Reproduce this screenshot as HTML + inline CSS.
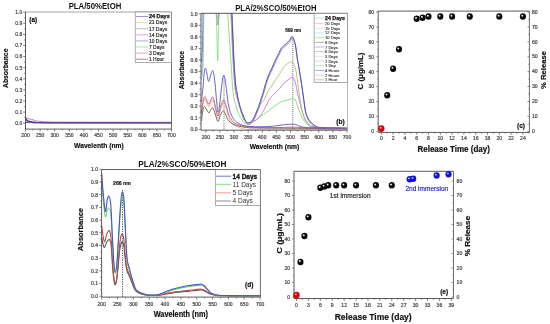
<!DOCTYPE html>
<html><head><meta charset="utf-8"><title>Figure</title>
<style>html,body{margin:0;padding:0;background:#fff;}body{width:550px;height:324px;position:relative;overflow:hidden;font-family:"Liberation Sans", sans-serif;}</style>
</head><body>
<svg width="550" height="324" viewBox="0 0 550 324" style="position:absolute;left:0;top:0;filter:blur(0.4px)" font-family='"Liberation Sans", sans-serif'>
<defs>
<radialGradient id="hk"><stop offset="0" stop-color="#fff" stop-opacity="1"/><stop offset="0.4" stop-color="#e8e8e8" stop-opacity="0.9"/><stop offset="1" stop-color="#777" stop-opacity="0"/></radialGradient>
<radialGradient id="hr"><stop offset="0" stop-color="#fff" stop-opacity="1"/><stop offset="0.45" stop-color="#ffb0b0" stop-opacity="0.8"/><stop offset="1" stop-color="#ff6060" stop-opacity="0"/></radialGradient>
<radialGradient id="hb"><stop offset="0" stop-color="#fff" stop-opacity="1"/><stop offset="0.45" stop-color="#b0b0ff" stop-opacity="0.8"/><stop offset="1" stop-color="#6060ff" stop-opacity="0"/></radialGradient>
<clipPath id="cb"><rect x="201" y="13.3" width="146.5" height="117"/></clipPath>
<clipPath id="cd"><rect x="101.6" y="169.5" width="158.8" height="127.5"/></clipPath>
<clipPath id="ca"><rect x="25.5" y="12" width="146" height="117"/></clipPath>
</defs>
<rect width="550" height="324" fill="#fff"/>
<line x1="23.20" y1="123.20" x2="25.50" y2="123.20" stroke="#4a4a4a" stroke-width="0.7" />
<text x="22.30" y="125.00" font-size="5.0" text-anchor="end" fill="#444" stroke="#444" stroke-width="0.2" >0.0</text>
<line x1="24.10" y1="117.65" x2="25.50" y2="117.65" stroke="#4a4a4a" stroke-width="0.6" />
<line x1="23.20" y1="112.10" x2="25.50" y2="112.10" stroke="#4a4a4a" stroke-width="0.7" />
<text x="22.30" y="113.90" font-size="5.0" text-anchor="end" fill="#444" stroke="#444" stroke-width="0.2" >0.1</text>
<line x1="24.10" y1="106.55" x2="25.50" y2="106.55" stroke="#4a4a4a" stroke-width="0.6" />
<line x1="23.20" y1="101.00" x2="25.50" y2="101.00" stroke="#4a4a4a" stroke-width="0.7" />
<text x="22.30" y="102.80" font-size="5.0" text-anchor="end" fill="#444" stroke="#444" stroke-width="0.2" >0.2</text>
<line x1="24.10" y1="95.45" x2="25.50" y2="95.45" stroke="#4a4a4a" stroke-width="0.6" />
<line x1="23.20" y1="89.90" x2="25.50" y2="89.90" stroke="#4a4a4a" stroke-width="0.7" />
<text x="22.30" y="91.70" font-size="5.0" text-anchor="end" fill="#444" stroke="#444" stroke-width="0.2" >0.3</text>
<line x1="24.10" y1="84.35" x2="25.50" y2="84.35" stroke="#4a4a4a" stroke-width="0.6" />
<line x1="23.20" y1="78.80" x2="25.50" y2="78.80" stroke="#4a4a4a" stroke-width="0.7" />
<text x="22.30" y="80.60" font-size="5.0" text-anchor="end" fill="#444" stroke="#444" stroke-width="0.2" >0.4</text>
<line x1="24.10" y1="73.25" x2="25.50" y2="73.25" stroke="#4a4a4a" stroke-width="0.6" />
<line x1="23.20" y1="67.70" x2="25.50" y2="67.70" stroke="#4a4a4a" stroke-width="0.7" />
<text x="22.30" y="69.50" font-size="5.0" text-anchor="end" fill="#444" stroke="#444" stroke-width="0.2" >0.5</text>
<line x1="24.10" y1="62.15" x2="25.50" y2="62.15" stroke="#4a4a4a" stroke-width="0.6" />
<line x1="23.20" y1="56.60" x2="25.50" y2="56.60" stroke="#4a4a4a" stroke-width="0.7" />
<text x="22.30" y="58.40" font-size="5.0" text-anchor="end" fill="#444" stroke="#444" stroke-width="0.2" >0.6</text>
<line x1="24.10" y1="51.05" x2="25.50" y2="51.05" stroke="#4a4a4a" stroke-width="0.6" />
<line x1="23.20" y1="45.50" x2="25.50" y2="45.50" stroke="#4a4a4a" stroke-width="0.7" />
<text x="22.30" y="47.30" font-size="5.0" text-anchor="end" fill="#444" stroke="#444" stroke-width="0.2" >0.7</text>
<line x1="24.10" y1="39.95" x2="25.50" y2="39.95" stroke="#4a4a4a" stroke-width="0.6" />
<line x1="23.20" y1="34.40" x2="25.50" y2="34.40" stroke="#4a4a4a" stroke-width="0.7" />
<text x="22.30" y="36.20" font-size="5.0" text-anchor="end" fill="#444" stroke="#444" stroke-width="0.2" >0.8</text>
<line x1="24.10" y1="28.85" x2="25.50" y2="28.85" stroke="#4a4a4a" stroke-width="0.6" />
<line x1="23.20" y1="23.30" x2="25.50" y2="23.30" stroke="#4a4a4a" stroke-width="0.7" />
<text x="22.30" y="25.10" font-size="5.0" text-anchor="end" fill="#444" stroke="#444" stroke-width="0.2" >0.9</text>
<line x1="24.10" y1="17.75" x2="25.50" y2="17.75" stroke="#4a4a4a" stroke-width="0.6" />
<line x1="23.20" y1="12.20" x2="25.50" y2="12.20" stroke="#4a4a4a" stroke-width="0.7" />
<text x="22.30" y="14.00" font-size="5.0" text-anchor="end" fill="#444" stroke="#444" stroke-width="0.2" >1.0</text>
<line x1="25.50" y1="129.10" x2="25.50" y2="131.50" stroke="#4a4a4a" stroke-width="0.7" />
<text x="25.50" y="137.00" font-size="5.0" text-anchor="middle" fill="#444" stroke="#444" stroke-width="0.2" >200</text>
<line x1="32.80" y1="129.10" x2="32.80" y2="130.50" stroke="#4a4a4a" stroke-width="0.6" />
<line x1="40.10" y1="129.10" x2="40.10" y2="131.50" stroke="#4a4a4a" stroke-width="0.7" />
<text x="40.10" y="137.00" font-size="5.0" text-anchor="middle" fill="#444" stroke="#444" stroke-width="0.2" >250</text>
<line x1="47.40" y1="129.10" x2="47.40" y2="130.50" stroke="#4a4a4a" stroke-width="0.6" />
<line x1="54.70" y1="129.10" x2="54.70" y2="131.50" stroke="#4a4a4a" stroke-width="0.7" />
<text x="54.70" y="137.00" font-size="5.0" text-anchor="middle" fill="#444" stroke="#444" stroke-width="0.2" >300</text>
<line x1="62.00" y1="129.10" x2="62.00" y2="130.50" stroke="#4a4a4a" stroke-width="0.6" />
<line x1="69.30" y1="129.10" x2="69.30" y2="131.50" stroke="#4a4a4a" stroke-width="0.7" />
<text x="69.30" y="137.00" font-size="5.0" text-anchor="middle" fill="#444" stroke="#444" stroke-width="0.2" >350</text>
<line x1="76.60" y1="129.10" x2="76.60" y2="130.50" stroke="#4a4a4a" stroke-width="0.6" />
<line x1="83.90" y1="129.10" x2="83.90" y2="131.50" stroke="#4a4a4a" stroke-width="0.7" />
<text x="83.90" y="137.00" font-size="5.0" text-anchor="middle" fill="#444" stroke="#444" stroke-width="0.2" >400</text>
<line x1="91.20" y1="129.10" x2="91.20" y2="130.50" stroke="#4a4a4a" stroke-width="0.6" />
<line x1="98.50" y1="129.10" x2="98.50" y2="131.50" stroke="#4a4a4a" stroke-width="0.7" />
<text x="98.50" y="137.00" font-size="5.0" text-anchor="middle" fill="#444" stroke="#444" stroke-width="0.2" >450</text>
<line x1="105.80" y1="129.10" x2="105.80" y2="130.50" stroke="#4a4a4a" stroke-width="0.6" />
<line x1="113.10" y1="129.10" x2="113.10" y2="131.50" stroke="#4a4a4a" stroke-width="0.7" />
<text x="113.10" y="137.00" font-size="5.0" text-anchor="middle" fill="#444" stroke="#444" stroke-width="0.2" >500</text>
<line x1="120.40" y1="129.10" x2="120.40" y2="130.50" stroke="#4a4a4a" stroke-width="0.6" />
<line x1="127.70" y1="129.10" x2="127.70" y2="131.50" stroke="#4a4a4a" stroke-width="0.7" />
<text x="127.70" y="137.00" font-size="5.0" text-anchor="middle" fill="#444" stroke="#444" stroke-width="0.2" >550</text>
<line x1="135.00" y1="129.10" x2="135.00" y2="130.50" stroke="#4a4a4a" stroke-width="0.6" />
<line x1="142.30" y1="129.10" x2="142.30" y2="131.50" stroke="#4a4a4a" stroke-width="0.7" />
<text x="142.30" y="137.00" font-size="5.0" text-anchor="middle" fill="#444" stroke="#444" stroke-width="0.2" >600</text>
<line x1="149.60" y1="129.10" x2="149.60" y2="130.50" stroke="#4a4a4a" stroke-width="0.6" />
<line x1="156.90" y1="129.10" x2="156.90" y2="131.50" stroke="#4a4a4a" stroke-width="0.7" />
<text x="156.90" y="137.00" font-size="5.0" text-anchor="middle" fill="#444" stroke="#444" stroke-width="0.2" >650</text>
<line x1="164.20" y1="129.10" x2="164.20" y2="130.50" stroke="#4a4a4a" stroke-width="0.6" />
<line x1="171.50" y1="129.10" x2="171.50" y2="131.50" stroke="#4a4a4a" stroke-width="0.7" />
<text x="171.50" y="137.00" font-size="5.0" text-anchor="middle" fill="#444" stroke="#444" stroke-width="0.2" >700</text>
<line x1="25.50" y1="12.00" x2="171.50" y2="12.00" stroke="#999" stroke-width="0.9" />
<line x1="171.50" y1="12.00" x2="171.50" y2="129.10" stroke="#4a4a4a" stroke-width="0.8" />
<line x1="25.50" y1="12.00" x2="25.50" y2="129.10" stroke="#4a4a4a" stroke-width="0.9" />
<line x1="25.50" y1="129.10" x2="171.50" y2="129.10" stroke="#4a4a4a" stroke-width="0.9" />
<text x="95.00" y="8.80" font-size="8.8" text-anchor="middle" fill="#111" font-weight="bold" textLength="52.7" lengthAdjust="spacingAndGlyphs" >PLA/50%EtOH</text>
<text x="98.90" y="147.50" font-size="8.0" text-anchor="middle" fill="#111" stroke="#111" stroke-width="0.2" font-weight="bold" textLength="49.6" lengthAdjust="spacingAndGlyphs" >Wavelenth (nm)</text>
<text x="8.20" y="68.30" font-size="7.4" text-anchor="middle" fill="#111" stroke="#111" stroke-width="0.2" font-weight="bold" textLength="39.5" lengthAdjust="spacingAndGlyphs" transform="rotate(-90 8.20 68.30)" >Absorbance</text>
<text x="33.20" y="22.10" font-size="6.4" text-anchor="middle" fill="#111" stroke="#111" stroke-width="0.2" font-weight="bold" >(a)</text>
<path d="M25.60,117.10 C26.00,117.35 27.05,118.23 28.00,118.60 C28.95,118.97 30.22,119.02 31.30,119.30 C32.38,119.58 33.53,120.00 34.50,120.30 C35.47,120.60 35.82,120.88 37.10,121.10 C38.38,121.32 40.05,121.45 42.20,121.60 C44.35,121.75 45.37,121.90 50.00,122.00 C54.63,122.10 49.83,122.15 70.00,122.20 C90.17,122.25 154.17,122.28 171.00,122.30" fill="none" stroke="#a080c8" stroke-width="1.0" stroke-linejoin="round" clip-path="url(#ca)" />
<path d="M25.60,118.50 C25.93,118.87 26.65,120.15 27.60,120.70 C28.55,121.25 29.90,121.52 31.30,121.80 C32.70,122.08 33.72,122.23 36.00,122.40 C38.28,122.57 22.50,122.70 45.00,122.80 C67.50,122.90 150.00,122.97 171.00,123.00" fill="none" stroke="#4a2a78" stroke-width="1.2" stroke-linejoin="round" clip-path="url(#ca)" />
<path d="M25.60,119.50 C26.10,119.85 27.37,121.08 28.60,121.60 C29.83,122.12 9.27,122.38 33.00,122.60 C56.73,122.82 148.00,122.85 171.00,122.90" fill="none" stroke="#6a3a98" stroke-width="0.9" stroke-linejoin="round" clip-path="url(#ca)" />
<rect x="135.2" y="12.0" width="36.30000000000001" height="50.3" fill="#fff" stroke="#777" stroke-width="0.6"/>
<line x1="136.00" y1="16.50" x2="148.00" y2="16.50" stroke="#8c5cc4" stroke-width="0.7" />
<text x="148.90" y="18.30" font-size="5.5" text-anchor="start" fill="#111" stroke="#111" stroke-width="0.25" font-weight="bold" >24 Days</text>
<line x1="136.00" y1="22.60" x2="148.00" y2="22.60" stroke="#cfcf9a" stroke-width="0.7" />
<text x="148.90" y="24.40" font-size="5.0" text-anchor="start" fill="#2a2a2a" stroke="#2a2a2a" stroke-width="0.18" >21 Days</text>
<line x1="136.00" y1="28.70" x2="148.00" y2="28.70" stroke="#b89a9a" stroke-width="0.7" />
<text x="148.90" y="30.50" font-size="5.0" text-anchor="start" fill="#2a2a2a" stroke="#2a2a2a" stroke-width="0.18" >17 Days</text>
<line x1="136.00" y1="34.80" x2="148.00" y2="34.80" stroke="#e07ae0" stroke-width="0.7" />
<text x="148.90" y="36.60" font-size="5.0" text-anchor="start" fill="#2a2a2a" stroke="#2a2a2a" stroke-width="0.18" >14 Days</text>
<line x1="136.00" y1="40.90" x2="148.00" y2="40.90" stroke="#8a8ad0" stroke-width="0.7" />
<text x="148.90" y="42.70" font-size="5.0" text-anchor="start" fill="#2a2a2a" stroke="#2a2a2a" stroke-width="0.18" >10 Days</text>
<line x1="136.00" y1="47.00" x2="148.00" y2="47.00" stroke="#80dd80" stroke-width="0.7" />
<text x="148.90" y="48.80" font-size="5.0" text-anchor="start" fill="#2a2a2a" stroke="#2a2a2a" stroke-width="0.18" >7 Days</text>
<line x1="136.00" y1="53.10" x2="148.00" y2="53.10" stroke="#e07c90" stroke-width="0.7" />
<text x="148.90" y="54.90" font-size="5.0" text-anchor="start" fill="#2a2a2a" stroke="#2a2a2a" stroke-width="0.18" >3 Days</text>
<line x1="136.00" y1="59.20" x2="148.00" y2="59.20" stroke="#706060" stroke-width="0.7" />
<text x="148.90" y="61.00" font-size="5.0" text-anchor="start" fill="#2a2a2a" stroke="#2a2a2a" stroke-width="0.18" >1 Hour</text>
<line x1="198.70" y1="129.40" x2="201.00" y2="129.40" stroke="#4a4a4a" stroke-width="0.7" />
<text x="197.50" y="131.20" font-size="5.0" text-anchor="end" fill="#444" stroke="#444" stroke-width="0.2" >0.0</text>
<line x1="199.60" y1="123.62" x2="201.00" y2="123.62" stroke="#4a4a4a" stroke-width="0.6" />
<line x1="198.70" y1="117.84" x2="201.00" y2="117.84" stroke="#4a4a4a" stroke-width="0.7" />
<text x="197.50" y="119.64" font-size="5.0" text-anchor="end" fill="#444" stroke="#444" stroke-width="0.2" >0.1</text>
<line x1="199.60" y1="112.06" x2="201.00" y2="112.06" stroke="#4a4a4a" stroke-width="0.6" />
<line x1="198.70" y1="106.28" x2="201.00" y2="106.28" stroke="#4a4a4a" stroke-width="0.7" />
<text x="197.50" y="108.08" font-size="5.0" text-anchor="end" fill="#444" stroke="#444" stroke-width="0.2" >0.2</text>
<line x1="199.60" y1="100.50" x2="201.00" y2="100.50" stroke="#4a4a4a" stroke-width="0.6" />
<line x1="198.70" y1="94.72" x2="201.00" y2="94.72" stroke="#4a4a4a" stroke-width="0.7" />
<text x="197.50" y="96.52" font-size="5.0" text-anchor="end" fill="#444" stroke="#444" stroke-width="0.2" >0.3</text>
<line x1="199.60" y1="88.94" x2="201.00" y2="88.94" stroke="#4a4a4a" stroke-width="0.6" />
<line x1="198.70" y1="83.16" x2="201.00" y2="83.16" stroke="#4a4a4a" stroke-width="0.7" />
<text x="197.50" y="84.96" font-size="5.0" text-anchor="end" fill="#444" stroke="#444" stroke-width="0.2" >0.4</text>
<line x1="199.60" y1="77.38" x2="201.00" y2="77.38" stroke="#4a4a4a" stroke-width="0.6" />
<line x1="198.70" y1="71.60" x2="201.00" y2="71.60" stroke="#4a4a4a" stroke-width="0.7" />
<text x="197.50" y="73.40" font-size="5.0" text-anchor="end" fill="#444" stroke="#444" stroke-width="0.2" >0.5</text>
<line x1="199.60" y1="65.82" x2="201.00" y2="65.82" stroke="#4a4a4a" stroke-width="0.6" />
<line x1="198.70" y1="60.04" x2="201.00" y2="60.04" stroke="#4a4a4a" stroke-width="0.7" />
<text x="197.50" y="61.84" font-size="5.0" text-anchor="end" fill="#444" stroke="#444" stroke-width="0.2" >0.6</text>
<line x1="199.60" y1="54.26" x2="201.00" y2="54.26" stroke="#4a4a4a" stroke-width="0.6" />
<line x1="198.70" y1="48.48" x2="201.00" y2="48.48" stroke="#4a4a4a" stroke-width="0.7" />
<text x="197.50" y="50.28" font-size="5.0" text-anchor="end" fill="#444" stroke="#444" stroke-width="0.2" >0.7</text>
<line x1="199.60" y1="42.70" x2="201.00" y2="42.70" stroke="#4a4a4a" stroke-width="0.6" />
<line x1="198.70" y1="36.92" x2="201.00" y2="36.92" stroke="#4a4a4a" stroke-width="0.7" />
<text x="197.50" y="38.72" font-size="5.0" text-anchor="end" fill="#444" stroke="#444" stroke-width="0.2" >0.8</text>
<line x1="199.60" y1="31.14" x2="201.00" y2="31.14" stroke="#4a4a4a" stroke-width="0.6" />
<line x1="198.70" y1="25.36" x2="201.00" y2="25.36" stroke="#4a4a4a" stroke-width="0.7" />
<text x="197.50" y="27.16" font-size="5.0" text-anchor="end" fill="#444" stroke="#444" stroke-width="0.2" >0.9</text>
<line x1="199.60" y1="19.58" x2="201.00" y2="19.58" stroke="#4a4a4a" stroke-width="0.6" />
<line x1="198.70" y1="13.80" x2="201.00" y2="13.80" stroke="#4a4a4a" stroke-width="0.7" />
<text x="197.50" y="15.60" font-size="5.0" text-anchor="end" fill="#444" stroke="#444" stroke-width="0.2" >1.0</text>
<line x1="205.80" y1="130.20" x2="205.80" y2="132.60" stroke="#4a4a4a" stroke-width="0.7" />
<text x="205.80" y="138.60" font-size="5.0" text-anchor="middle" fill="#444" stroke="#444" stroke-width="0.2" >200</text>
<line x1="212.86" y1="130.20" x2="212.86" y2="131.60" stroke="#4a4a4a" stroke-width="0.6" />
<line x1="219.92" y1="130.20" x2="219.92" y2="132.60" stroke="#4a4a4a" stroke-width="0.7" />
<text x="219.92" y="138.60" font-size="5.0" text-anchor="middle" fill="#444" stroke="#444" stroke-width="0.2" >250</text>
<line x1="226.98" y1="130.20" x2="226.98" y2="131.60" stroke="#4a4a4a" stroke-width="0.6" />
<line x1="234.04" y1="130.20" x2="234.04" y2="132.60" stroke="#4a4a4a" stroke-width="0.7" />
<text x="234.04" y="138.60" font-size="5.0" text-anchor="middle" fill="#444" stroke="#444" stroke-width="0.2" >300</text>
<line x1="241.10" y1="130.20" x2="241.10" y2="131.60" stroke="#4a4a4a" stroke-width="0.6" />
<line x1="248.16" y1="130.20" x2="248.16" y2="132.60" stroke="#4a4a4a" stroke-width="0.7" />
<text x="248.16" y="138.60" font-size="5.0" text-anchor="middle" fill="#444" stroke="#444" stroke-width="0.2" >350</text>
<line x1="255.22" y1="130.20" x2="255.22" y2="131.60" stroke="#4a4a4a" stroke-width="0.6" />
<line x1="262.28" y1="130.20" x2="262.28" y2="132.60" stroke="#4a4a4a" stroke-width="0.7" />
<text x="262.28" y="138.60" font-size="5.0" text-anchor="middle" fill="#444" stroke="#444" stroke-width="0.2" >400</text>
<line x1="269.34" y1="130.20" x2="269.34" y2="131.60" stroke="#4a4a4a" stroke-width="0.6" />
<line x1="276.40" y1="130.20" x2="276.40" y2="132.60" stroke="#4a4a4a" stroke-width="0.7" />
<text x="276.40" y="138.60" font-size="5.0" text-anchor="middle" fill="#444" stroke="#444" stroke-width="0.2" >450</text>
<line x1="283.46" y1="130.20" x2="283.46" y2="131.60" stroke="#4a4a4a" stroke-width="0.6" />
<line x1="290.52" y1="130.20" x2="290.52" y2="132.60" stroke="#4a4a4a" stroke-width="0.7" />
<text x="290.52" y="138.60" font-size="5.0" text-anchor="middle" fill="#444" stroke="#444" stroke-width="0.2" >500</text>
<line x1="297.58" y1="130.20" x2="297.58" y2="131.60" stroke="#4a4a4a" stroke-width="0.6" />
<line x1="304.64" y1="130.20" x2="304.64" y2="132.60" stroke="#4a4a4a" stroke-width="0.7" />
<text x="304.64" y="138.60" font-size="5.0" text-anchor="middle" fill="#444" stroke="#444" stroke-width="0.2" >550</text>
<line x1="311.70" y1="130.20" x2="311.70" y2="131.60" stroke="#4a4a4a" stroke-width="0.6" />
<line x1="318.76" y1="130.20" x2="318.76" y2="132.60" stroke="#4a4a4a" stroke-width="0.7" />
<text x="318.76" y="138.60" font-size="5.0" text-anchor="middle" fill="#444" stroke="#444" stroke-width="0.2" >600</text>
<line x1="325.82" y1="130.20" x2="325.82" y2="131.60" stroke="#4a4a4a" stroke-width="0.6" />
<line x1="332.88" y1="130.20" x2="332.88" y2="132.60" stroke="#4a4a4a" stroke-width="0.7" />
<text x="332.88" y="138.60" font-size="5.0" text-anchor="middle" fill="#444" stroke="#444" stroke-width="0.2" >650</text>
<line x1="339.94" y1="130.20" x2="339.94" y2="131.60" stroke="#4a4a4a" stroke-width="0.6" />
<line x1="347.00" y1="130.20" x2="347.00" y2="132.60" stroke="#4a4a4a" stroke-width="0.7" />
<text x="347.00" y="138.60" font-size="5.0" text-anchor="middle" fill="#444" stroke="#444" stroke-width="0.2" >700</text>
<text x="275.90" y="10.70" font-size="8.6" text-anchor="middle" fill="#111" font-weight="bold" textLength="81.3" lengthAdjust="spacingAndGlyphs" >PLA/2%SCO/50%EtOH</text>
<text x="274.40" y="149.00" font-size="7.8" text-anchor="middle" fill="#111" stroke="#111" stroke-width="0.2" font-weight="bold" textLength="49.5" lengthAdjust="spacingAndGlyphs" >Wavelenth (nm)</text>
<text x="183.60" y="70.20" font-size="7.4" text-anchor="middle" fill="#111" stroke="#111" stroke-width="0.2" font-weight="bold" textLength="38.3" lengthAdjust="spacingAndGlyphs" transform="rotate(-90 183.60 70.20)" >Absorbance</text>
<text x="340.50" y="124.30" font-size="6.6" text-anchor="middle" fill="#111" stroke="#111" stroke-width="0.2" font-weight="bold" >(b)</text>
<text x="293.20" y="32.20" font-size="5.0" text-anchor="middle" fill="#111" stroke="#111" stroke-width="0.15" font-weight="bold" textLength="16.1" lengthAdjust="spacingAndGlyphs" >509 nm</text>
<line x1="292.80" y1="37.50" x2="292.80" y2="130.00" stroke="#333" stroke-width="0.75" stroke-dasharray="1,1.1"/>
<line x1="224.00" y1="76.00" x2="224.00" y2="130.00" stroke="#333" stroke-width="0.75" stroke-dasharray="1,1.1"/>
<path d="M201.40,80.00 C201.60,78.67 202.30,75.67 202.60,72.00 C202.90,68.33 203.03,69.17 203.20,58.00 C203.37,46.83 203.53,13.83 203.60,5.00" fill="none" stroke="#80d080" stroke-width="0.7" stroke-linejoin="round" clip-path="url(#cb)" />
<path d="M201.40,74.00 C201.58,72.67 202.23,69.67 202.50,66.00 C202.77,62.33 202.87,62.17 203.00,52.00 C203.13,41.83 203.25,12.83 203.30,5.00" fill="none" stroke="#e0a0b0" stroke-width="0.7" stroke-linejoin="round" clip-path="url(#cb)" />
<path d="M201.40,62.00 C201.57,60.00 202.15,55.33 202.40,50.00 C202.65,44.67 202.77,37.50 202.90,30.00 C203.03,22.50 203.15,9.17 203.20,5.00" fill="none" stroke="#4a58b0" stroke-width="0.8" stroke-linejoin="round" clip-path="url(#cb)" />
<path d="M201.60,76.00 C201.80,73.33 202.48,66.83 202.80,60.00 C203.12,53.17 203.32,44.17 203.50,35.00 C203.68,25.83 203.83,10.00 203.90,5.00" fill="none" stroke="#86c6e6" stroke-width="0.9" stroke-linejoin="round" clip-path="url(#cb)" />
<path d="M216.00,5.00 C216.15,6.67 216.62,12.67 216.90,15.00 C217.18,17.33 217.43,19.00 217.70,19.00 C217.97,19.00 218.22,17.33 218.50,15.00 C218.78,12.67 219.25,6.67 219.40,5.00" fill="none" stroke="#d8b8d8" stroke-width="1.2" stroke-linejoin="round" clip-path="url(#cb)" />
<path d="M215.40,5.00 C215.60,7.00 216.23,13.67 216.60,17.00 C216.97,20.33 217.25,25.00 217.60,25.00 C217.95,25.00 218.32,20.33 218.70,17.00 C219.08,13.67 219.70,7.00 219.90,5.00" fill="none" stroke="#a080a8" stroke-width="1.0" stroke-linejoin="round" clip-path="url(#cb)" />
<path d="M215.90,5.00 C216.08,10.83 216.72,30.67 217.00,40.00 C217.28,49.33 217.38,61.00 217.60,61.00 C217.82,61.00 218.02,49.33 218.30,40.00 C218.58,30.67 219.13,10.83 219.30,5.00" fill="none" stroke="#7ada7a" stroke-width="0.8" stroke-linejoin="round" clip-path="url(#cb)" />
<path d="M227.20,5.00 C227.58,10.83 228.78,29.17 229.50,40.00 C230.22,50.83 230.90,61.25 231.50,70.00 C232.10,78.75 232.35,86.50 233.10,92.50 C233.85,98.50 234.95,102.17 236.00,106.00 C237.05,109.83 238.48,113.37 239.40,115.50 C240.32,117.63 240.68,117.57 241.50,118.80 C242.32,120.03 243.22,122.03 244.30,122.90 C245.38,123.77 246.72,124.07 248.00,124.00 C249.28,123.93 250.22,123.53 252.00,122.50 C253.78,121.47 256.00,119.70 258.70,117.80 C261.40,115.90 264.70,113.65 268.20,111.10 C271.70,108.55 276.73,104.27 279.70,102.50 C282.67,100.73 283.90,101.12 286.00,100.50 C288.10,99.88 290.73,98.88 292.30,98.80 C293.87,98.72 294.27,98.05 295.40,100.00 C296.53,101.95 297.97,107.52 299.10,110.50 C300.23,113.48 300.97,115.73 302.20,117.90 C303.43,120.07 304.75,121.95 306.50,123.50 C308.25,125.05 310.45,126.48 312.70,127.20 C314.95,127.92 314.20,127.63 320.00,127.80 C325.80,127.97 342.92,128.13 347.50,128.20" fill="none" stroke="#7ada7a" stroke-width="0.9" stroke-linejoin="round" clip-path="url(#cb)" />
<path d="M230.50,5.00 C230.92,14.17 232.25,46.17 233.00,60.00 C233.75,73.83 234.42,82.00 235.00,88.00 C235.58,94.00 236.00,93.83 236.50,96.00 C237.00,98.17 237.42,99.00 238.00,101.00 C238.58,103.00 239.10,105.08 240.00,108.00 C240.90,110.92 242.15,116.00 243.40,118.50 C244.65,121.00 246.07,122.38 247.50,123.00 C248.93,123.62 250.25,122.95 252.00,122.20 C253.75,121.45 256.00,120.53 258.00,118.50 C260.00,116.47 262.02,113.37 264.00,110.00 C265.98,106.63 268.08,101.08 269.90,98.30 C271.72,95.52 273.25,94.95 274.90,93.30 C276.55,91.65 278.37,90.03 279.80,88.40 C281.23,86.77 282.13,84.90 283.50,83.50 C284.87,82.10 286.47,81.03 288.00,80.00 C289.53,78.97 291.47,76.83 292.70,77.30 C293.93,77.77 294.63,80.33 295.40,82.80 C296.17,85.27 296.68,89.32 297.30,92.10 C297.92,94.88 298.40,96.68 299.10,99.50 C299.80,102.32 300.60,105.92 301.50,109.00 C302.40,112.08 303.42,115.58 304.50,118.00 C305.58,120.42 306.42,122.03 308.00,123.50 C309.58,124.97 307.42,126.00 314.00,126.80 C320.58,127.60 341.92,128.05 347.50,128.30" fill="none" stroke="#d070d0" stroke-width="0.9" stroke-linejoin="round" clip-path="url(#cb)" />
<path d="M231.00,5.00 C231.42,14.17 232.78,46.17 233.50,60.00 C234.22,73.83 234.75,82.17 235.30,88.00 C235.85,93.83 236.32,93.00 236.80,95.00 C237.28,97.00 237.70,98.00 238.20,100.00 C238.70,102.00 238.93,104.00 239.80,107.00 C240.67,110.00 242.12,115.37 243.40,118.00 C244.68,120.63 246.07,122.22 247.50,122.80 C248.93,123.38 250.58,122.97 252.00,121.50 C253.42,120.03 254.67,116.75 256.00,114.00 C257.33,111.25 258.60,107.42 260.00,105.00 C261.40,102.58 263.15,101.65 264.40,99.50 C265.65,97.35 266.27,94.37 267.50,92.10 C268.73,89.83 270.47,87.95 271.80,85.90 C273.13,83.85 274.17,81.85 275.50,79.80 C276.83,77.75 278.47,75.67 279.80,73.60 C281.13,71.53 282.30,69.00 283.50,67.40 C284.70,65.80 285.47,64.87 287.00,64.00 C288.53,63.13 291.20,61.02 292.70,62.20 C294.20,63.38 295.13,67.35 296.00,71.10 C296.87,74.85 297.28,80.38 297.90,84.70 C298.52,89.02 299.02,92.78 299.70,97.00 C300.38,101.22 301.12,106.33 302.00,110.00 C302.88,113.67 303.83,116.58 305.00,119.00 C306.17,121.42 307.33,123.13 309.00,124.50 C310.67,125.87 308.58,126.57 315.00,127.20 C321.42,127.83 342.08,128.12 347.50,128.30" fill="none" stroke="#b8b874" stroke-width="0.9" stroke-linejoin="round" clip-path="url(#cb)" />
<path d="M231.80,5.00 C232.18,14.43 233.42,48.00 234.10,61.60 C234.78,75.20 235.38,81.27 235.90,86.60 C236.42,91.93 236.87,91.62 237.20,93.60 C237.53,95.58 237.68,97.27 237.90,98.50 C238.12,99.73 238.20,99.77 238.50,101.00 C238.80,102.23 239.18,104.05 239.70,105.90 C240.22,107.75 240.88,110.03 241.60,112.10 C242.32,114.17 243.18,116.45 244.00,118.30 C244.82,120.15 245.78,122.17 246.50,123.20 C247.22,124.23 247.37,124.60 248.30,124.50 C249.23,124.40 250.85,124.05 252.10,122.60 C253.35,121.15 254.68,118.17 255.80,115.80 C256.92,113.43 257.88,110.93 258.80,108.40 C259.72,105.87 260.50,103.05 261.30,100.60 C262.10,98.15 262.83,96.28 263.60,93.70 C264.37,91.12 265.00,87.98 265.90,85.10 C266.80,82.22 267.90,79.08 269.00,76.40 C270.10,73.72 271.38,71.45 272.50,69.00 C273.62,66.55 274.65,63.95 275.70,61.70 C276.75,59.45 277.77,57.55 278.80,55.50 C279.83,53.45 281.07,50.73 281.90,49.40 C282.73,48.07 282.98,48.23 283.80,47.50 C284.62,46.77 285.78,45.93 286.80,45.00 C287.82,44.07 288.93,43.03 289.90,41.90 C290.87,40.77 291.67,37.58 292.60,38.20 C293.53,38.82 294.68,42.03 295.50,45.60 C296.32,49.17 296.75,54.88 297.50,59.60 C298.25,64.32 299.27,69.45 300.00,73.90 C300.73,78.35 301.28,82.18 301.90,86.30 C302.52,90.42 303.08,94.30 303.70,98.60 C304.32,102.90 304.87,108.62 305.60,112.10 C306.33,115.58 307.07,117.43 308.10,119.50 C309.13,121.57 310.37,123.05 311.80,124.50 C313.23,125.95 314.85,127.38 316.70,128.20 C318.55,129.02 317.72,129.13 322.90,129.40 C328.08,129.67 343.65,129.73 347.80,129.80" fill="none" stroke="#9a90d8" stroke-width="1.0" stroke-linejoin="round" clip-path="url(#cb)" />
<path d="M231.50,5.00 C231.88,14.17 233.12,46.67 233.80,60.00 C234.48,73.33 235.08,79.67 235.60,85.00 C236.12,90.33 236.57,90.02 236.90,92.00 C237.23,93.98 237.38,95.67 237.60,96.90 C237.82,98.13 237.90,98.17 238.20,99.40 C238.50,100.63 238.88,102.45 239.40,104.30 C239.92,106.15 240.58,108.43 241.30,110.50 C242.02,112.57 242.88,114.85 243.70,116.70 C244.52,118.55 245.48,120.57 246.20,121.60 C246.92,122.63 247.07,123.00 248.00,122.90 C248.93,122.80 250.55,122.45 251.80,121.00 C253.05,119.55 254.38,116.57 255.50,114.20 C256.62,111.83 257.58,109.33 258.50,106.80 C259.42,104.27 260.20,101.45 261.00,99.00 C261.80,96.55 262.53,94.68 263.30,92.10 C264.07,89.52 264.70,86.38 265.60,83.50 C266.50,80.62 267.60,77.48 268.70,74.80 C269.80,72.12 271.08,69.85 272.20,67.40 C273.32,64.95 274.35,62.35 275.40,60.10 C276.45,57.85 277.47,55.95 278.50,53.90 C279.53,51.85 280.77,49.13 281.60,47.80 C282.43,46.47 282.68,46.63 283.50,45.90 C284.32,45.17 285.48,44.33 286.50,43.40 C287.52,42.47 288.63,41.43 289.60,40.30 C290.57,39.17 291.37,35.98 292.30,36.60 C293.23,37.22 294.38,40.43 295.20,44.00 C296.02,47.57 296.45,53.28 297.20,58.00 C297.95,62.72 298.97,67.85 299.70,72.30 C300.43,76.75 300.98,80.58 301.60,84.70 C302.22,88.82 302.78,92.70 303.40,97.00 C304.02,101.30 304.57,107.02 305.30,110.50 C306.03,113.98 306.77,115.83 307.80,117.90 C308.83,119.97 310.07,121.45 311.50,122.90 C312.93,124.35 314.55,125.78 316.40,126.60 C318.25,127.42 317.42,127.53 322.60,127.80 C327.78,128.07 343.35,128.13 347.50,128.20" fill="none" stroke="#5250a8" stroke-width="1.0" stroke-linejoin="round" clip-path="url(#cb)" />
<path d="M201.50,115.50 C201.80,113.33 202.72,105.22 203.30,102.50 C203.88,99.78 204.38,99.03 205.00,99.20 C205.62,99.37 206.33,102.23 207.00,103.50 C207.67,104.77 208.33,107.05 209.00,106.80 C209.67,106.55 210.33,103.20 211.00,102.00 C211.67,100.80 212.28,98.52 213.00,99.60 C213.72,100.68 214.47,105.35 215.30,108.50 C216.13,111.65 217.13,118.33 218.00,118.50 C218.87,118.67 219.75,111.92 220.50,109.50 C221.25,107.08 221.95,105.17 222.50,104.00 C223.05,102.83 223.38,102.33 223.80,102.50 C224.22,102.67 224.55,103.83 225.00,105.00 C225.45,106.17 225.83,107.35 226.50,109.50 C227.17,111.65 228.25,115.90 229.00,117.90 C229.75,119.90 230.33,120.42 231.00,121.50 C231.67,122.58 232.17,123.60 233.00,124.40 C233.83,125.20 234.83,125.72 236.00,126.30 C237.17,126.88 238.33,127.40 240.00,127.90 C241.67,128.40 243.50,129.05 246.00,129.30 C248.50,129.55 250.17,129.38 255.00,129.40 C259.83,129.42 268.67,129.40 275.00,129.40 C281.33,129.40 288.00,129.40 293.00,129.40 C298.00,129.40 295.92,129.40 305.00,129.40 C314.08,129.40 340.42,129.40 347.50,129.40" fill="none" stroke="#e8a0a8" stroke-width="0.8" stroke-linejoin="round" clip-path="url(#cb)" />
<path d="M201.50,121.00 C201.75,119.17 202.50,112.43 203.00,110.00 C203.50,107.57 203.87,106.40 204.50,106.40 C205.13,106.40 206.05,108.92 206.80,110.00 C207.55,111.08 208.30,112.98 209.00,112.90 C209.70,112.82 210.33,110.32 211.00,109.50 C211.67,108.68 212.25,107.08 213.00,108.00 C213.75,108.92 214.67,112.75 215.50,115.00 C216.33,117.25 217.17,121.50 218.00,121.50 C218.83,121.50 219.75,116.67 220.50,115.00 C221.25,113.33 221.95,112.17 222.50,111.50 C223.05,110.83 223.38,110.75 223.80,111.00 C224.22,111.25 224.47,111.82 225.00,113.00 C225.53,114.18 226.33,116.77 227.00,118.10 C227.67,119.43 228.17,120.07 229.00,121.00 C229.83,121.93 230.83,122.98 232.00,123.70 C233.17,124.42 234.67,124.85 236.00,125.30 C237.33,125.75 238.00,126.02 240.00,126.40 C242.00,126.78 244.67,127.33 248.00,127.60 C251.33,127.87 243.42,127.83 260.00,128.00 C276.58,128.17 332.92,128.50 347.50,128.60" fill="none" stroke="#606058" stroke-width="0.9" stroke-linejoin="round" clip-path="url(#cb)" />
<path d="M201.50,113.00 C201.80,110.83 202.72,102.72 203.30,100.00 C203.88,97.28 204.38,96.53 205.00,96.70 C205.62,96.87 206.33,99.73 207.00,101.00 C207.67,102.27 208.33,104.55 209.00,104.30 C209.67,104.05 210.33,100.70 211.00,99.50 C211.67,98.30 212.28,96.02 213.00,97.10 C213.72,98.18 214.47,102.85 215.30,106.00 C216.13,109.15 217.13,115.83 218.00,116.00 C218.87,116.17 219.75,109.42 220.50,107.00 C221.25,104.58 221.95,102.67 222.50,101.50 C223.05,100.33 223.38,99.83 223.80,100.00 C224.22,100.17 224.55,101.33 225.00,102.50 C225.45,103.67 225.83,104.85 226.50,107.00 C227.17,109.15 228.25,113.40 229.00,115.40 C229.75,117.40 230.33,117.92 231.00,119.00 C231.67,120.08 232.17,121.10 233.00,121.90 C233.83,122.70 234.83,123.22 236.00,123.80 C237.17,124.38 238.33,124.90 240.00,125.40 C241.67,125.90 243.50,126.45 246.00,126.80 C248.50,127.15 250.17,127.37 255.00,127.50 C259.83,127.63 268.67,127.65 275.00,127.60 C281.33,127.55 288.00,127.17 293.00,127.20 C298.00,127.23 295.92,127.58 305.00,127.80 C314.08,128.02 340.42,128.38 347.50,128.50" fill="none" stroke="#c85858" stroke-width="0.9" stroke-linejoin="round" clip-path="url(#cb)" />
<path d="M201.50,102.00 C201.78,99.17 202.73,90.00 203.20,85.00 C203.67,80.00 203.93,74.80 204.30,72.00 C204.67,69.20 204.98,68.03 205.40,68.20 C205.82,68.37 206.27,70.77 206.80,73.00 C207.33,75.23 207.93,81.27 208.60,81.60 C209.27,81.93 210.07,76.80 210.80,75.00 C211.53,73.20 212.30,69.47 213.00,70.80 C213.70,72.13 214.37,77.63 215.00,83.00 C215.63,88.37 216.30,98.08 216.80,103.00 C217.30,107.92 217.55,112.00 218.00,112.50 C218.45,113.00 218.97,109.75 219.50,106.00 C220.03,102.25 220.68,94.50 221.20,90.00 C221.72,85.50 222.17,81.48 222.60,79.00 C223.03,76.52 223.40,75.10 223.80,75.10 C224.20,75.10 224.58,76.77 225.00,79.00 C225.42,81.23 225.77,84.45 226.30,88.50 C226.83,92.55 227.58,99.55 228.20,103.30 C228.82,107.05 229.53,109.22 230.00,111.00 C230.47,112.78 230.57,112.92 231.00,114.00 C231.43,115.08 231.98,116.42 232.60,117.50 C233.22,118.58 234.05,119.75 234.70,120.50 C235.35,121.25 235.20,121.22 236.50,122.00 C237.80,122.78 240.25,124.45 242.50,125.20 C244.75,125.95 247.08,126.23 250.00,126.50 C252.92,126.77 256.67,126.80 260.00,126.80 C263.33,126.80 266.67,126.75 270.00,126.50 C273.33,126.25 277.33,125.63 280.00,125.30 C282.67,124.97 283.95,124.68 286.00,124.50 C288.05,124.32 290.63,124.15 292.30,124.20 C293.97,124.25 294.67,124.45 296.00,124.80 C297.33,125.15 297.97,125.80 300.30,126.30 C302.63,126.80 302.13,127.47 310.00,127.80 C317.87,128.13 341.25,128.22 347.50,128.30" fill="none" stroke="#6466c8" stroke-width="1.0" stroke-linejoin="round" clip-path="url(#cb)" />
<line x1="201.00" y1="13.30" x2="347.50" y2="13.30" stroke="#4a4a4a" stroke-width="0.9" />
<line x1="347.50" y1="13.30" x2="347.50" y2="130.20" stroke="#aaa" stroke-width="0.8" />
<line x1="201.00" y1="13.30" x2="201.00" y2="130.20" stroke="#4a4a4a" stroke-width="0.9" />
<line x1="201.00" y1="130.20" x2="347.50" y2="130.20" stroke="#4a4a4a" stroke-width="0.9" />
<rect x="314.1" y="13.3" width="33.4" height="69.0" fill="#fff" stroke="#777" stroke-width="0.6"/>
<line x1="315.20" y1="18.10" x2="324.30" y2="18.10" stroke="#80c0e0" stroke-width="0.5" />
<text x="325.00" y="20.00" font-size="5.4" text-anchor="start" fill="#111" stroke="#111" stroke-width="0.25" font-weight="bold" textLength="20" lengthAdjust="spacingAndGlyphs" >24 Days</text>
<line x1="315.20" y1="23.60" x2="324.30" y2="23.60" stroke="#e090a0" stroke-width="0.5" />
<text x="325.00" y="25.10" font-size="4.1" text-anchor="start" fill="#444" stroke="#444" stroke-width="0.15" >20 Days</text>
<line x1="315.20" y1="28.28" x2="324.30" y2="28.28" stroke="#e0c090" stroke-width="0.5" />
<text x="325.00" y="29.78" font-size="4.1" text-anchor="start" fill="#444" stroke="#444" stroke-width="0.15" >15 Days</text>
<line x1="315.20" y1="32.96" x2="324.30" y2="32.96" stroke="#80e0e0" stroke-width="0.5" />
<text x="325.00" y="34.46" font-size="4.1" text-anchor="start" fill="#444" stroke="#444" stroke-width="0.15" >12 Days</text>
<line x1="315.20" y1="37.64" x2="324.30" y2="37.64" stroke="#90c090" stroke-width="0.5" />
<text x="325.00" y="39.14" font-size="4.1" text-anchor="start" fill="#444" stroke="#444" stroke-width="0.15" >10 Days</text>
<line x1="315.20" y1="42.32" x2="324.30" y2="42.32" stroke="#606040" stroke-width="0.5" />
<text x="325.00" y="43.82" font-size="4.1" text-anchor="start" fill="#444" stroke="#444" stroke-width="0.15" >8 Days</text>
<line x1="315.20" y1="47.00" x2="324.30" y2="47.00" stroke="#7070c8" stroke-width="0.5" />
<text x="325.00" y="48.50" font-size="4.1" text-anchor="start" fill="#444" stroke="#444" stroke-width="0.15" >7 Days</text>
<line x1="315.20" y1="51.68" x2="324.30" y2="51.68" stroke="#a08080" stroke-width="0.5" />
<text x="325.00" y="53.18" font-size="4.1" text-anchor="start" fill="#444" stroke="#444" stroke-width="0.15" >6 Days</text>
<line x1="315.20" y1="56.36" x2="324.30" y2="56.36" stroke="#d0d0a0" stroke-width="0.5" />
<text x="325.00" y="57.86" font-size="4.1" text-anchor="start" fill="#444" stroke="#444" stroke-width="0.15" >3 Days</text>
<line x1="315.20" y1="61.04" x2="324.30" y2="61.04" stroke="#c0a0e0" stroke-width="0.5" />
<text x="325.00" y="62.54" font-size="4.1" text-anchor="start" fill="#444" stroke="#444" stroke-width="0.15" >2 Days</text>
<line x1="315.20" y1="65.72" x2="324.30" y2="65.72" stroke="#80d080" stroke-width="0.5" />
<text x="325.00" y="67.22" font-size="4.1" text-anchor="start" fill="#444" stroke="#444" stroke-width="0.15" >1 Day</text>
<line x1="315.20" y1="70.40" x2="324.30" y2="70.40" stroke="#4050a0" stroke-width="0.5" />
<text x="325.00" y="71.90" font-size="4.1" text-anchor="start" fill="#444" stroke="#444" stroke-width="0.15" >4 Hours</text>
<line x1="315.20" y1="75.08" x2="324.30" y2="75.08" stroke="#e09090" stroke-width="0.5" />
<text x="325.00" y="76.58" font-size="4.1" text-anchor="start" fill="#444" stroke="#444" stroke-width="0.15" >2 Hours</text>
<line x1="315.20" y1="79.76" x2="324.30" y2="79.76" stroke="#909090" stroke-width="0.5" />
<text x="325.00" y="81.26" font-size="4.1" text-anchor="start" fill="#444" stroke="#444" stroke-width="0.15" >1 Hour</text>
<line x1="376.20" y1="131.30" x2="378.20" y2="131.30" stroke="#4a4a4a" stroke-width="0.6" />
<line x1="527.40" y1="131.30" x2="529.40" y2="131.30" stroke="#4a4a4a" stroke-width="0.6" />
<text x="374.20" y="133.10" font-size="5.1" text-anchor="end" fill="#444" stroke="#444" stroke-width="0.2" >0</text>
<text x="532.00" y="132.90" font-size="5.1" text-anchor="start" fill="#444" stroke="#444" stroke-width="0.2" >0</text>
<line x1="377.00" y1="123.85" x2="378.20" y2="123.85" stroke="#4a4a4a" stroke-width="0.5" />
<line x1="528.20" y1="123.85" x2="529.40" y2="123.85" stroke="#4a4a4a" stroke-width="0.5" />
<line x1="376.20" y1="116.40" x2="378.20" y2="116.40" stroke="#4a4a4a" stroke-width="0.6" />
<line x1="527.40" y1="116.40" x2="529.40" y2="116.40" stroke="#4a4a4a" stroke-width="0.6" />
<text x="374.20" y="118.20" font-size="5.1" text-anchor="end" fill="#444" stroke="#444" stroke-width="0.2" >10</text>
<text x="532.00" y="118.00" font-size="5.1" text-anchor="start" fill="#444" stroke="#444" stroke-width="0.2" >10</text>
<line x1="377.00" y1="108.95" x2="378.20" y2="108.95" stroke="#4a4a4a" stroke-width="0.5" />
<line x1="528.20" y1="108.95" x2="529.40" y2="108.95" stroke="#4a4a4a" stroke-width="0.5" />
<line x1="376.20" y1="101.50" x2="378.20" y2="101.50" stroke="#4a4a4a" stroke-width="0.6" />
<line x1="527.40" y1="101.50" x2="529.40" y2="101.50" stroke="#4a4a4a" stroke-width="0.6" />
<text x="374.20" y="103.30" font-size="5.1" text-anchor="end" fill="#444" stroke="#444" stroke-width="0.2" >20</text>
<text x="532.00" y="103.10" font-size="5.1" text-anchor="start" fill="#444" stroke="#444" stroke-width="0.2" >20</text>
<line x1="377.00" y1="94.05" x2="378.20" y2="94.05" stroke="#4a4a4a" stroke-width="0.5" />
<line x1="528.20" y1="94.05" x2="529.40" y2="94.05" stroke="#4a4a4a" stroke-width="0.5" />
<line x1="376.20" y1="86.60" x2="378.20" y2="86.60" stroke="#4a4a4a" stroke-width="0.6" />
<line x1="527.40" y1="86.60" x2="529.40" y2="86.60" stroke="#4a4a4a" stroke-width="0.6" />
<text x="374.20" y="88.40" font-size="5.1" text-anchor="end" fill="#444" stroke="#444" stroke-width="0.2" >30</text>
<text x="532.00" y="88.20" font-size="5.1" text-anchor="start" fill="#444" stroke="#444" stroke-width="0.2" >30</text>
<line x1="377.00" y1="79.15" x2="378.20" y2="79.15" stroke="#4a4a4a" stroke-width="0.5" />
<line x1="528.20" y1="79.15" x2="529.40" y2="79.15" stroke="#4a4a4a" stroke-width="0.5" />
<line x1="376.20" y1="71.70" x2="378.20" y2="71.70" stroke="#4a4a4a" stroke-width="0.6" />
<line x1="527.40" y1="71.70" x2="529.40" y2="71.70" stroke="#4a4a4a" stroke-width="0.6" />
<text x="374.20" y="73.50" font-size="5.1" text-anchor="end" fill="#444" stroke="#444" stroke-width="0.2" >40</text>
<text x="532.00" y="73.30" font-size="5.1" text-anchor="start" fill="#444" stroke="#444" stroke-width="0.2" >40</text>
<line x1="377.00" y1="64.25" x2="378.20" y2="64.25" stroke="#4a4a4a" stroke-width="0.5" />
<line x1="528.20" y1="64.25" x2="529.40" y2="64.25" stroke="#4a4a4a" stroke-width="0.5" />
<line x1="376.20" y1="56.80" x2="378.20" y2="56.80" stroke="#4a4a4a" stroke-width="0.6" />
<line x1="527.40" y1="56.80" x2="529.40" y2="56.80" stroke="#4a4a4a" stroke-width="0.6" />
<text x="374.20" y="58.60" font-size="5.1" text-anchor="end" fill="#444" stroke="#444" stroke-width="0.2" >50</text>
<text x="532.00" y="58.40" font-size="5.1" text-anchor="start" fill="#444" stroke="#444" stroke-width="0.2" >50</text>
<line x1="377.00" y1="49.35" x2="378.20" y2="49.35" stroke="#4a4a4a" stroke-width="0.5" />
<line x1="528.20" y1="49.35" x2="529.40" y2="49.35" stroke="#4a4a4a" stroke-width="0.5" />
<line x1="376.20" y1="41.90" x2="378.20" y2="41.90" stroke="#4a4a4a" stroke-width="0.6" />
<line x1="527.40" y1="41.90" x2="529.40" y2="41.90" stroke="#4a4a4a" stroke-width="0.6" />
<text x="374.20" y="43.70" font-size="5.1" text-anchor="end" fill="#444" stroke="#444" stroke-width="0.2" >60</text>
<text x="532.00" y="43.50" font-size="5.1" text-anchor="start" fill="#444" stroke="#444" stroke-width="0.2" >60</text>
<line x1="377.00" y1="34.45" x2="378.20" y2="34.45" stroke="#4a4a4a" stroke-width="0.5" />
<line x1="528.20" y1="34.45" x2="529.40" y2="34.45" stroke="#4a4a4a" stroke-width="0.5" />
<line x1="376.20" y1="27.00" x2="378.20" y2="27.00" stroke="#4a4a4a" stroke-width="0.6" />
<line x1="527.40" y1="27.00" x2="529.40" y2="27.00" stroke="#4a4a4a" stroke-width="0.6" />
<text x="374.20" y="28.80" font-size="5.1" text-anchor="end" fill="#444" stroke="#444" stroke-width="0.2" >70</text>
<text x="532.00" y="28.60" font-size="5.1" text-anchor="start" fill="#444" stroke="#444" stroke-width="0.2" >70</text>
<line x1="377.00" y1="19.55" x2="378.20" y2="19.55" stroke="#4a4a4a" stroke-width="0.5" />
<line x1="528.20" y1="19.55" x2="529.40" y2="19.55" stroke="#4a4a4a" stroke-width="0.5" />
<line x1="376.20" y1="12.10" x2="378.20" y2="12.10" stroke="#4a4a4a" stroke-width="0.6" />
<line x1="527.40" y1="12.10" x2="529.40" y2="12.10" stroke="#4a4a4a" stroke-width="0.6" />
<text x="374.20" y="13.90" font-size="5.1" text-anchor="end" fill="#444" stroke="#444" stroke-width="0.2" >80</text>
<text x="532.00" y="13.70" font-size="5.1" text-anchor="start" fill="#444" stroke="#444" stroke-width="0.2" >80</text>
<line x1="381.30" y1="132.40" x2="381.30" y2="134.80" stroke="#4a4a4a" stroke-width="0.7" />
<text x="381.30" y="139.80" font-size="5.1" text-anchor="middle" fill="#444" stroke="#444" stroke-width="0.2" >0</text>
<line x1="387.20" y1="132.40" x2="387.20" y2="133.80" stroke="#4a4a4a" stroke-width="0.6" />
<line x1="393.10" y1="132.40" x2="393.10" y2="134.80" stroke="#4a4a4a" stroke-width="0.7" />
<text x="393.10" y="139.80" font-size="5.1" text-anchor="middle" fill="#444" stroke="#444" stroke-width="0.2" >2</text>
<line x1="399.00" y1="132.40" x2="399.00" y2="133.80" stroke="#4a4a4a" stroke-width="0.6" />
<line x1="404.90" y1="132.40" x2="404.90" y2="134.80" stroke="#4a4a4a" stroke-width="0.7" />
<text x="404.90" y="139.80" font-size="5.1" text-anchor="middle" fill="#444" stroke="#444" stroke-width="0.2" >4</text>
<line x1="410.80" y1="132.40" x2="410.80" y2="133.80" stroke="#4a4a4a" stroke-width="0.6" />
<line x1="416.70" y1="132.40" x2="416.70" y2="134.80" stroke="#4a4a4a" stroke-width="0.7" />
<text x="416.70" y="139.80" font-size="5.1" text-anchor="middle" fill="#444" stroke="#444" stroke-width="0.2" >6</text>
<line x1="422.60" y1="132.40" x2="422.60" y2="133.80" stroke="#4a4a4a" stroke-width="0.6" />
<line x1="428.50" y1="132.40" x2="428.50" y2="134.80" stroke="#4a4a4a" stroke-width="0.7" />
<text x="428.50" y="139.80" font-size="5.1" text-anchor="middle" fill="#444" stroke="#444" stroke-width="0.2" >8</text>
<line x1="434.40" y1="132.40" x2="434.40" y2="133.80" stroke="#4a4a4a" stroke-width="0.6" />
<line x1="440.30" y1="132.40" x2="440.30" y2="134.80" stroke="#4a4a4a" stroke-width="0.7" />
<text x="440.30" y="139.80" font-size="5.1" text-anchor="middle" fill="#444" stroke="#444" stroke-width="0.2" >10</text>
<line x1="446.20" y1="132.40" x2="446.20" y2="133.80" stroke="#4a4a4a" stroke-width="0.6" />
<line x1="452.10" y1="132.40" x2="452.10" y2="134.80" stroke="#4a4a4a" stroke-width="0.7" />
<text x="452.10" y="139.80" font-size="5.1" text-anchor="middle" fill="#444" stroke="#444" stroke-width="0.2" >12</text>
<line x1="458.00" y1="132.40" x2="458.00" y2="133.80" stroke="#4a4a4a" stroke-width="0.6" />
<line x1="463.90" y1="132.40" x2="463.90" y2="134.80" stroke="#4a4a4a" stroke-width="0.7" />
<text x="463.90" y="139.80" font-size="5.1" text-anchor="middle" fill="#444" stroke="#444" stroke-width="0.2" >14</text>
<line x1="469.80" y1="132.40" x2="469.80" y2="133.80" stroke="#4a4a4a" stroke-width="0.6" />
<line x1="475.70" y1="132.40" x2="475.70" y2="134.80" stroke="#4a4a4a" stroke-width="0.7" />
<text x="475.70" y="139.80" font-size="5.1" text-anchor="middle" fill="#444" stroke="#444" stroke-width="0.2" >16</text>
<line x1="481.60" y1="132.40" x2="481.60" y2="133.80" stroke="#4a4a4a" stroke-width="0.6" />
<line x1="487.50" y1="132.40" x2="487.50" y2="134.80" stroke="#4a4a4a" stroke-width="0.7" />
<text x="487.50" y="139.80" font-size="5.1" text-anchor="middle" fill="#444" stroke="#444" stroke-width="0.2" >18</text>
<line x1="493.40" y1="132.40" x2="493.40" y2="133.80" stroke="#4a4a4a" stroke-width="0.6" />
<line x1="499.30" y1="132.40" x2="499.30" y2="134.80" stroke="#4a4a4a" stroke-width="0.7" />
<text x="499.30" y="139.80" font-size="5.1" text-anchor="middle" fill="#444" stroke="#444" stroke-width="0.2" >20</text>
<line x1="505.20" y1="132.40" x2="505.20" y2="133.80" stroke="#4a4a4a" stroke-width="0.6" />
<line x1="511.10" y1="132.40" x2="511.10" y2="134.80" stroke="#4a4a4a" stroke-width="0.7" />
<text x="511.10" y="139.80" font-size="5.1" text-anchor="middle" fill="#444" stroke="#444" stroke-width="0.2" >22</text>
<line x1="517.00" y1="132.40" x2="517.00" y2="133.80" stroke="#4a4a4a" stroke-width="0.6" />
<line x1="522.90" y1="132.40" x2="522.90" y2="134.80" stroke="#4a4a4a" stroke-width="0.7" />
<text x="522.90" y="139.80" font-size="5.1" text-anchor="middle" fill="#444" stroke="#444" stroke-width="0.2" >24</text>
<line x1="528.80" y1="132.40" x2="528.80" y2="133.80" stroke="#4a4a4a" stroke-width="0.6" />
<line x1="378.20" y1="11.10" x2="529.40" y2="11.10" stroke="#4a4a4a" stroke-width="0.9" />
<line x1="529.40" y1="11.10" x2="529.40" y2="132.40" stroke="#4a4a4a" stroke-width="0.8" />
<line x1="378.20" y1="11.10" x2="378.20" y2="132.40" stroke="#4a4a4a" stroke-width="0.9" />
<line x1="378.20" y1="132.40" x2="529.40" y2="132.40" stroke="#4a4a4a" stroke-width="0.9" />
<text x="453.70" y="152.10" font-size="8.8" text-anchor="middle" fill="#111" stroke="#111" stroke-width="0.2" font-weight="bold" textLength="72.5" lengthAdjust="spacingAndGlyphs" >Release Time (day)</text>
<text x="362.90" y="71.00" font-size="7.9" text-anchor="middle" fill="#111" stroke="#111" stroke-width="0.2" font-weight="bold" textLength="37" lengthAdjust="spacingAndGlyphs" transform="rotate(-90 362.90 71.00)" >C (μg/mL)</text>
<text x="546.40" y="70.00" font-size="7.7" text-anchor="middle" fill="#111" stroke="#111" stroke-width="0.2" font-weight="bold" textLength="38" lengthAdjust="spacingAndGlyphs" transform="rotate(-90 546.40 70.00)" >% Release</text>
<text x="521.00" y="128.30" font-size="6.6" text-anchor="middle" fill="#111" stroke="#111" stroke-width="0.2" font-weight="bold" >(c)</text>
<ellipse cx="381.30" cy="128.62" rx="3.2" ry="3.39" fill="#d80000"/>
<circle cx="380.60" cy="127.77" r="1.5" fill="url(#hr)"/>
<ellipse cx="387.20" cy="95.24" rx="3.05" ry="3.23" fill="#0a0a0a"/>
<circle cx="386.50" cy="94.39" r="1.5" fill="url(#hk)"/>
<ellipse cx="393.10" cy="68.72" rx="3.05" ry="3.23" fill="#0a0a0a"/>
<circle cx="392.40" cy="67.87" r="1.5" fill="url(#hk)"/>
<ellipse cx="399.00" cy="49.35" rx="3.05" ry="3.23" fill="#0a0a0a"/>
<circle cx="398.30" cy="48.50" r="1.5" fill="url(#hk)"/>
<ellipse cx="416.70" cy="18.81" rx="3.05" ry="3.23" fill="#0a0a0a"/>
<circle cx="416.00" cy="17.96" r="1.5" fill="url(#hk)"/>
<ellipse cx="422.60" cy="17.76" rx="3.05" ry="3.23" fill="#0a0a0a"/>
<circle cx="421.90" cy="16.91" r="1.5" fill="url(#hk)"/>
<ellipse cx="428.50" cy="16.57" rx="3.05" ry="3.23" fill="#0a0a0a"/>
<circle cx="427.80" cy="15.72" r="1.5" fill="url(#hk)"/>
<ellipse cx="440.30" cy="16.57" rx="3.05" ry="3.23" fill="#0a0a0a"/>
<circle cx="439.60" cy="15.72" r="1.5" fill="url(#hk)"/>
<ellipse cx="452.10" cy="16.57" rx="3.05" ry="3.23" fill="#0a0a0a"/>
<circle cx="451.40" cy="15.72" r="1.5" fill="url(#hk)"/>
<ellipse cx="469.80" cy="16.57" rx="3.05" ry="3.23" fill="#0a0a0a"/>
<circle cx="469.10" cy="15.72" r="1.5" fill="url(#hk)"/>
<ellipse cx="499.30" cy="16.57" rx="3.05" ry="3.23" fill="#0a0a0a"/>
<circle cx="498.60" cy="15.72" r="1.5" fill="url(#hk)"/>
<ellipse cx="522.90" cy="16.57" rx="3.05" ry="3.23" fill="#0a0a0a"/>
<circle cx="522.20" cy="15.72" r="1.5" fill="url(#hk)"/>
<line x1="99.30" y1="296.30" x2="101.60" y2="296.30" stroke="#4a4a4a" stroke-width="0.7" />
<text x="98.00" y="298.10" font-size="5.0" text-anchor="end" fill="#444" stroke="#444" stroke-width="0.2" >0.0</text>
<line x1="100.20" y1="289.95" x2="101.60" y2="289.95" stroke="#4a4a4a" stroke-width="0.6" />
<line x1="99.30" y1="283.60" x2="101.60" y2="283.60" stroke="#4a4a4a" stroke-width="0.7" />
<text x="98.00" y="285.40" font-size="5.0" text-anchor="end" fill="#444" stroke="#444" stroke-width="0.2" >0.1</text>
<line x1="100.20" y1="277.25" x2="101.60" y2="277.25" stroke="#4a4a4a" stroke-width="0.6" />
<line x1="99.30" y1="270.90" x2="101.60" y2="270.90" stroke="#4a4a4a" stroke-width="0.7" />
<text x="98.00" y="272.70" font-size="5.0" text-anchor="end" fill="#444" stroke="#444" stroke-width="0.2" >0.2</text>
<line x1="100.20" y1="264.55" x2="101.60" y2="264.55" stroke="#4a4a4a" stroke-width="0.6" />
<line x1="99.30" y1="258.20" x2="101.60" y2="258.20" stroke="#4a4a4a" stroke-width="0.7" />
<text x="98.00" y="260.00" font-size="5.0" text-anchor="end" fill="#444" stroke="#444" stroke-width="0.2" >0.3</text>
<line x1="100.20" y1="251.85" x2="101.60" y2="251.85" stroke="#4a4a4a" stroke-width="0.6" />
<line x1="99.30" y1="245.50" x2="101.60" y2="245.50" stroke="#4a4a4a" stroke-width="0.7" />
<text x="98.00" y="247.30" font-size="5.0" text-anchor="end" fill="#444" stroke="#444" stroke-width="0.2" >0.4</text>
<line x1="100.20" y1="239.15" x2="101.60" y2="239.15" stroke="#4a4a4a" stroke-width="0.6" />
<line x1="99.30" y1="232.80" x2="101.60" y2="232.80" stroke="#4a4a4a" stroke-width="0.7" />
<text x="98.00" y="234.60" font-size="5.0" text-anchor="end" fill="#444" stroke="#444" stroke-width="0.2" >0.5</text>
<line x1="100.20" y1="226.45" x2="101.60" y2="226.45" stroke="#4a4a4a" stroke-width="0.6" />
<line x1="99.30" y1="220.10" x2="101.60" y2="220.10" stroke="#4a4a4a" stroke-width="0.7" />
<text x="98.00" y="221.90" font-size="5.0" text-anchor="end" fill="#444" stroke="#444" stroke-width="0.2" >0.6</text>
<line x1="100.20" y1="213.75" x2="101.60" y2="213.75" stroke="#4a4a4a" stroke-width="0.6" />
<line x1="99.30" y1="207.40" x2="101.60" y2="207.40" stroke="#4a4a4a" stroke-width="0.7" />
<text x="98.00" y="209.20" font-size="5.0" text-anchor="end" fill="#444" stroke="#444" stroke-width="0.2" >0.7</text>
<line x1="100.20" y1="201.05" x2="101.60" y2="201.05" stroke="#4a4a4a" stroke-width="0.6" />
<line x1="99.30" y1="194.70" x2="101.60" y2="194.70" stroke="#4a4a4a" stroke-width="0.7" />
<text x="98.00" y="196.50" font-size="5.0" text-anchor="end" fill="#444" stroke="#444" stroke-width="0.2" >0.8</text>
<line x1="100.20" y1="188.35" x2="101.60" y2="188.35" stroke="#4a4a4a" stroke-width="0.6" />
<line x1="99.30" y1="182.00" x2="101.60" y2="182.00" stroke="#4a4a4a" stroke-width="0.7" />
<text x="98.00" y="183.80" font-size="5.0" text-anchor="end" fill="#444" stroke="#444" stroke-width="0.2" >0.9</text>
<line x1="100.20" y1="175.65" x2="101.60" y2="175.65" stroke="#4a4a4a" stroke-width="0.6" />
<line x1="99.30" y1="169.30" x2="101.60" y2="169.30" stroke="#4a4a4a" stroke-width="0.7" />
<text x="98.00" y="171.10" font-size="5.0" text-anchor="end" fill="#444" stroke="#444" stroke-width="0.2" >1.0</text>
<line x1="101.60" y1="297.10" x2="101.60" y2="299.50" stroke="#4a4a4a" stroke-width="0.7" />
<text x="101.60" y="305.50" font-size="5.0" text-anchor="middle" fill="#444" stroke="#444" stroke-width="0.2" >200</text>
<line x1="109.52" y1="297.10" x2="109.52" y2="298.50" stroke="#4a4a4a" stroke-width="0.6" />
<line x1="117.45" y1="297.10" x2="117.45" y2="299.50" stroke="#4a4a4a" stroke-width="0.7" />
<text x="117.45" y="305.50" font-size="5.0" text-anchor="middle" fill="#444" stroke="#444" stroke-width="0.2" >250</text>
<line x1="125.38" y1="297.10" x2="125.38" y2="298.50" stroke="#4a4a4a" stroke-width="0.6" />
<line x1="133.30" y1="297.10" x2="133.30" y2="299.50" stroke="#4a4a4a" stroke-width="0.7" />
<text x="133.30" y="305.50" font-size="5.0" text-anchor="middle" fill="#444" stroke="#444" stroke-width="0.2" >300</text>
<line x1="141.22" y1="297.10" x2="141.22" y2="298.50" stroke="#4a4a4a" stroke-width="0.6" />
<line x1="149.15" y1="297.10" x2="149.15" y2="299.50" stroke="#4a4a4a" stroke-width="0.7" />
<text x="149.15" y="305.50" font-size="5.0" text-anchor="middle" fill="#444" stroke="#444" stroke-width="0.2" >350</text>
<line x1="157.07" y1="297.10" x2="157.07" y2="298.50" stroke="#4a4a4a" stroke-width="0.6" />
<line x1="165.00" y1="297.10" x2="165.00" y2="299.50" stroke="#4a4a4a" stroke-width="0.7" />
<text x="165.00" y="305.50" font-size="5.0" text-anchor="middle" fill="#444" stroke="#444" stroke-width="0.2" >400</text>
<line x1="172.93" y1="297.10" x2="172.93" y2="298.50" stroke="#4a4a4a" stroke-width="0.6" />
<line x1="180.85" y1="297.10" x2="180.85" y2="299.50" stroke="#4a4a4a" stroke-width="0.7" />
<text x="180.85" y="305.50" font-size="5.0" text-anchor="middle" fill="#444" stroke="#444" stroke-width="0.2" >450</text>
<line x1="188.77" y1="297.10" x2="188.77" y2="298.50" stroke="#4a4a4a" stroke-width="0.6" />
<line x1="196.70" y1="297.10" x2="196.70" y2="299.50" stroke="#4a4a4a" stroke-width="0.7" />
<text x="196.70" y="305.50" font-size="5.0" text-anchor="middle" fill="#444" stroke="#444" stroke-width="0.2" >500</text>
<line x1="204.62" y1="297.10" x2="204.62" y2="298.50" stroke="#4a4a4a" stroke-width="0.6" />
<line x1="212.55" y1="297.10" x2="212.55" y2="299.50" stroke="#4a4a4a" stroke-width="0.7" />
<text x="212.55" y="305.50" font-size="5.0" text-anchor="middle" fill="#444" stroke="#444" stroke-width="0.2" >550</text>
<line x1="220.47" y1="297.10" x2="220.47" y2="298.50" stroke="#4a4a4a" stroke-width="0.6" />
<line x1="228.40" y1="297.10" x2="228.40" y2="299.50" stroke="#4a4a4a" stroke-width="0.7" />
<text x="228.40" y="305.50" font-size="5.0" text-anchor="middle" fill="#444" stroke="#444" stroke-width="0.2" >600</text>
<line x1="236.32" y1="297.10" x2="236.32" y2="298.50" stroke="#4a4a4a" stroke-width="0.6" />
<line x1="244.25" y1="297.10" x2="244.25" y2="299.50" stroke="#4a4a4a" stroke-width="0.7" />
<text x="244.25" y="305.50" font-size="5.0" text-anchor="middle" fill="#444" stroke="#444" stroke-width="0.2" >650</text>
<line x1="252.17" y1="297.10" x2="252.17" y2="298.50" stroke="#4a4a4a" stroke-width="0.6" />
<line x1="260.10" y1="297.10" x2="260.10" y2="299.50" stroke="#4a4a4a" stroke-width="0.7" />
<text x="260.10" y="305.50" font-size="5.0" text-anchor="middle" fill="#444" stroke="#444" stroke-width="0.2" >700</text>
<text x="182.30" y="167.20" font-size="9.0" text-anchor="middle" fill="#111" font-weight="bold" textLength="88.2" lengthAdjust="spacingAndGlyphs" >PLA/2%SCO/50%EtOH</text>
<text x="180.80" y="316.90" font-size="8.6" text-anchor="middle" fill="#111" stroke="#111" stroke-width="0.2" font-weight="bold" textLength="54.2" lengthAdjust="spacingAndGlyphs" >Wavelenth (nm)</text>
<text x="82.50" y="229.50" font-size="7.6" text-anchor="middle" fill="#111" stroke="#111" stroke-width="0.2" font-weight="bold" textLength="43" lengthAdjust="spacingAndGlyphs" transform="rotate(-90 82.50 229.50)" >Absorbance</text>
<text x="249.20" y="286.50" font-size="6.6" text-anchor="middle" fill="#111" stroke="#111" stroke-width="0.2" font-weight="bold" >(d)</text>
<text x="121.90" y="185.00" font-size="5.2" text-anchor="middle" fill="#111" stroke="#111" stroke-width="0.15" font-weight="bold" textLength="17.7" lengthAdjust="spacingAndGlyphs" >266 nm</text>
<line x1="122.60" y1="190.00" x2="122.60" y2="297.00" stroke="#333" stroke-width="0.85" stroke-dasharray="1.3,1.1"/>
<path d="M101.70,237.00 C101.88,238.00 102.33,241.25 102.80,243.00 C103.27,244.75 103.83,247.67 104.50,247.50 C105.17,247.33 105.97,243.32 106.80,242.00 C107.63,240.68 108.77,238.93 109.50,239.60 C110.23,240.27 110.65,240.93 111.20,246.00 C111.75,251.07 112.30,264.00 112.80,270.00 C113.30,276.00 113.78,279.55 114.20,282.00 C114.62,284.45 114.83,285.37 115.30,284.70 C115.77,284.03 116.30,283.45 117.00,278.00 C117.70,272.55 118.83,257.67 119.50,252.00 C120.17,246.33 120.50,245.68 121.00,244.00 C121.50,242.32 122.00,241.40 122.50,241.90 C123.00,242.40 123.50,243.65 124.00,247.00 C124.50,250.35 125.00,258.00 125.50,262.00 C126.00,266.00 126.37,268.67 127.00,271.00 C127.63,273.33 128.55,274.25 129.30,276.00 C130.05,277.75 130.72,279.50 131.50,281.50 C132.28,283.50 133.25,286.42 134.00,288.00 C134.75,289.58 135.00,290.07 136.00,291.00 C137.00,291.93 138.50,292.93 140.00,293.60 C141.50,294.27 143.33,294.68 145.00,295.00 C146.67,295.32 147.83,295.43 150.00,295.50 C152.17,295.57 155.67,295.58 158.00,295.40 C160.33,295.22 162.08,294.73 164.00,294.40 C165.92,294.07 167.17,293.77 169.50,293.40 C171.83,293.03 174.75,292.58 178.00,292.20 C181.25,291.82 186.00,291.40 189.00,291.10 C192.00,290.80 193.93,290.58 196.00,290.40 C198.07,290.22 199.90,289.87 201.40,290.00 C202.90,290.13 203.73,290.63 205.00,291.20 C206.27,291.77 207.50,292.77 209.00,293.40 C210.50,294.03 212.17,294.63 214.00,295.00 C215.83,295.37 212.27,295.47 220.00,295.60 C227.73,295.73 253.67,295.77 260.40,295.80" fill="none" stroke="#5a5a5a" stroke-width="1.1" stroke-linejoin="round" clip-path="url(#cd)" />
<path d="M101.70,226.00 C101.88,227.33 102.33,231.35 102.80,234.00 C103.27,236.65 103.83,241.90 104.50,241.90 C105.17,241.90 105.97,235.88 106.80,234.00 C107.63,232.12 108.77,229.60 109.50,230.60 C110.23,231.60 110.65,234.10 111.20,240.00 C111.75,245.90 112.30,259.33 112.80,266.00 C113.30,272.67 113.78,277.07 114.20,280.00 C114.62,282.93 114.83,284.27 115.30,283.60 C115.77,282.93 116.30,282.27 117.00,276.00 C117.70,269.73 118.83,252.67 119.50,246.00 C120.17,239.33 120.50,238.00 121.00,236.00 C121.50,234.00 122.00,233.33 122.50,234.00 C123.00,234.67 123.50,236.00 124.00,240.00 C124.50,244.00 125.00,253.33 125.50,258.00 C126.00,262.67 126.37,265.25 127.00,268.00 C127.63,270.75 128.55,272.50 129.30,274.50 C130.05,276.50 130.72,277.92 131.50,280.00 C132.28,282.08 133.25,285.28 134.00,287.00 C134.75,288.72 135.00,289.25 136.00,290.30 C137.00,291.35 138.50,292.55 140.00,293.30 C141.50,294.05 143.33,294.45 145.00,294.80 C146.67,295.15 147.83,295.32 150.00,295.40 C152.17,295.48 155.67,295.53 158.00,295.30 C160.33,295.07 162.08,294.42 164.00,294.00 C165.92,293.58 167.17,293.22 169.50,292.80 C171.83,292.38 174.75,291.90 178.00,291.50 C181.25,291.10 186.00,290.72 189.00,290.40 C192.00,290.08 193.93,289.80 196.00,289.60 C198.07,289.40 199.90,289.05 201.40,289.20 C202.90,289.35 203.73,289.87 205.00,290.50 C206.27,291.13 207.50,292.28 209.00,293.00 C210.50,293.72 212.17,294.38 214.00,294.80 C215.83,295.22 212.27,295.33 220.00,295.50 C227.73,295.67 253.67,295.75 260.40,295.80" fill="none" stroke="#c04848" stroke-width="1.1" stroke-linejoin="round" clip-path="url(#cd)" />
<path d="M101.70,181.00 C101.95,184.17 102.58,194.03 103.20,200.00 C103.82,205.97 104.73,215.13 105.40,216.80 C106.07,218.47 106.60,211.43 107.20,210.00 C107.80,208.57 108.40,207.53 109.00,208.20 C109.60,208.87 110.25,209.03 110.80,214.00 C111.35,218.97 111.80,229.67 112.30,238.00 C112.80,246.33 113.32,258.10 113.80,264.00 C114.28,269.90 114.67,273.57 115.20,273.40 C115.73,273.23 116.28,271.23 117.00,263.00 C117.72,254.77 118.80,234.00 119.50,224.00 C120.20,214.00 120.68,207.43 121.20,203.00 C121.72,198.57 122.13,197.07 122.60,197.40 C123.07,197.73 123.52,198.90 124.00,205.00 C124.48,211.10 125.00,224.83 125.50,234.00 C126.00,243.17 126.37,254.00 127.00,260.00 C127.63,266.00 128.63,267.25 129.30,270.00 C129.97,272.75 130.30,274.17 131.00,276.50 C131.70,278.83 132.67,281.75 133.50,284.00 C134.33,286.25 134.92,288.53 136.00,290.00 C137.08,291.47 138.50,292.07 140.00,292.80 C141.50,293.53 143.33,294.02 145.00,294.40 C146.67,294.78 148.33,294.97 150.00,295.10 C151.67,295.23 153.33,295.33 155.00,295.20 C156.67,295.07 158.33,294.73 160.00,294.30 C161.67,293.87 163.42,293.15 165.00,292.60 C166.58,292.05 167.83,291.53 169.50,291.00 C171.17,290.47 173.08,289.90 175.00,289.40 C176.92,288.90 178.67,288.48 181.00,288.00 C183.33,287.52 186.50,286.90 189.00,286.50 C191.50,286.10 193.93,285.82 196.00,285.60 C198.07,285.38 200.07,285.05 201.40,285.20 C202.73,285.35 202.90,285.60 204.00,286.50 C205.10,287.40 206.67,289.37 208.00,290.60 C209.33,291.83 210.23,293.10 212.00,293.90 C213.77,294.70 215.60,295.12 218.60,295.40 C221.60,295.68 223.03,295.53 230.00,295.60 C236.97,295.67 255.33,295.77 260.40,295.80" fill="none" stroke="#58c858" stroke-width="1.0" stroke-linejoin="round" clip-path="url(#cd)" />
<path d="M101.70,173.60 C101.95,176.83 102.58,186.70 103.20,193.00 C103.82,199.30 104.73,210.23 105.40,211.40 C106.07,212.57 106.60,202.52 107.20,200.00 C107.80,197.48 108.40,195.47 109.00,196.30 C109.60,197.13 110.25,198.55 110.80,205.00 C111.35,211.45 111.80,225.50 112.30,235.00 C112.80,244.50 113.32,255.78 113.80,262.00 C114.28,268.22 114.67,272.30 115.20,272.30 C115.73,272.30 116.28,270.72 117.00,262.00 C117.72,253.28 118.80,230.67 119.50,220.00 C120.20,209.33 120.68,202.67 121.20,198.00 C121.72,193.33 122.13,191.67 122.60,192.00 C123.07,192.33 123.52,193.67 124.00,200.00 C124.48,206.33 125.00,220.33 125.50,230.00 C126.00,239.67 126.37,251.67 127.00,258.00 C127.63,264.33 128.63,265.17 129.30,268.00 C129.97,270.83 130.30,272.50 131.00,275.00 C131.70,277.50 132.67,280.58 133.50,283.00 C134.33,285.42 134.92,287.92 136.00,289.50 C137.08,291.08 138.50,291.72 140.00,292.50 C141.50,293.28 143.33,293.78 145.00,294.20 C146.67,294.62 148.33,294.85 150.00,295.00 C151.67,295.15 153.33,295.27 155.00,295.10 C156.67,294.93 158.33,294.52 160.00,294.00 C161.67,293.48 163.42,292.63 165.00,292.00 C166.58,291.37 167.83,290.78 169.50,290.20 C171.17,289.62 173.08,289.03 175.00,288.50 C176.92,287.97 178.67,287.50 181.00,287.00 C183.33,286.50 186.50,285.90 189.00,285.50 C191.50,285.10 193.93,284.82 196.00,284.60 C198.07,284.38 200.07,284.05 201.40,284.20 C202.73,284.35 202.90,284.53 204.00,285.50 C205.10,286.47 206.67,288.65 208.00,290.00 C209.33,291.35 210.23,292.72 212.00,293.60 C213.77,294.48 215.60,294.97 218.60,295.30 C221.60,295.63 223.03,295.52 230.00,295.60 C236.97,295.68 255.33,295.77 260.40,295.80" fill="none" stroke="#4858c0" stroke-width="1.1" stroke-linejoin="round" clip-path="url(#cd)" />
<line x1="101.60" y1="169.50" x2="260.40" y2="169.50" stroke="#4a4a4a" stroke-width="0.9" />
<line x1="260.40" y1="169.50" x2="260.40" y2="297.10" stroke="#4a4a4a" stroke-width="0.8" />
<line x1="101.60" y1="169.50" x2="101.60" y2="297.10" stroke="#4a4a4a" stroke-width="0.9" />
<line x1="101.60" y1="297.10" x2="260.40" y2="297.10" stroke="#4a4a4a" stroke-width="0.9" />
<rect x="215.4" y="169.8" width="44.8" height="35.6" fill="#fff" stroke="#777" stroke-width="0.6"/>
<line x1="216.00" y1="176.20" x2="231.00" y2="176.20" stroke="#4858c0" stroke-width="0.8" />
<text x="232.60" y="178.50" font-size="6.5" text-anchor="start" fill="#111" stroke="#111" stroke-width="0.3" font-weight="bold" >14 Days</text>
<line x1="216.00" y1="184.30" x2="231.00" y2="184.30" stroke="#60d860" stroke-width="0.8" />
<text x="232.60" y="186.60" font-size="6.5" text-anchor="start" fill="#333" >11 Days</text>
<line x1="216.00" y1="192.80" x2="231.00" y2="192.80" stroke="#f08080" stroke-width="0.8" />
<text x="232.60" y="195.10" font-size="6.5" text-anchor="start" fill="#333" >5 Days</text>
<line x1="216.00" y1="201.00" x2="231.00" y2="201.00" stroke="#707070" stroke-width="0.8" />
<text x="232.60" y="203.30" font-size="6.5" text-anchor="start" fill="#333" >4 Days</text>
<line x1="292.00" y1="297.00" x2="294.00" y2="297.00" stroke="#4a4a4a" stroke-width="0.6" />
<line x1="451.50" y1="297.00" x2="453.50" y2="297.00" stroke="#4a4a4a" stroke-width="0.6" />
<text x="290.20" y="298.80" font-size="5.1" text-anchor="end" fill="#444" stroke="#444" stroke-width="0.2" >0</text>
<text x="456.60" y="298.80" font-size="5.1" text-anchor="start" fill="#444" stroke="#444" stroke-width="0.2" >0</text>
<line x1="292.80" y1="289.75" x2="294.00" y2="289.75" stroke="#4a4a4a" stroke-width="0.5" />
<line x1="452.30" y1="289.75" x2="453.50" y2="289.75" stroke="#4a4a4a" stroke-width="0.5" />
<line x1="292.00" y1="282.50" x2="294.00" y2="282.50" stroke="#4a4a4a" stroke-width="0.6" />
<line x1="451.50" y1="282.50" x2="453.50" y2="282.50" stroke="#4a4a4a" stroke-width="0.6" />
<text x="290.20" y="284.30" font-size="5.1" text-anchor="end" fill="#444" stroke="#444" stroke-width="0.2" >10</text>
<text x="456.60" y="284.30" font-size="5.1" text-anchor="start" fill="#444" stroke="#444" stroke-width="0.2" >10</text>
<line x1="292.80" y1="275.25" x2="294.00" y2="275.25" stroke="#4a4a4a" stroke-width="0.5" />
<line x1="452.30" y1="275.25" x2="453.50" y2="275.25" stroke="#4a4a4a" stroke-width="0.5" />
<line x1="292.00" y1="268.00" x2="294.00" y2="268.00" stroke="#4a4a4a" stroke-width="0.6" />
<line x1="451.50" y1="268.00" x2="453.50" y2="268.00" stroke="#4a4a4a" stroke-width="0.6" />
<text x="290.20" y="269.80" font-size="5.1" text-anchor="end" fill="#444" stroke="#444" stroke-width="0.2" >20</text>
<text x="456.60" y="269.80" font-size="5.1" text-anchor="start" fill="#444" stroke="#444" stroke-width="0.2" >20</text>
<line x1="292.80" y1="260.75" x2="294.00" y2="260.75" stroke="#4a4a4a" stroke-width="0.5" />
<line x1="452.30" y1="260.75" x2="453.50" y2="260.75" stroke="#4a4a4a" stroke-width="0.5" />
<line x1="292.00" y1="253.50" x2="294.00" y2="253.50" stroke="#4a4a4a" stroke-width="0.6" />
<line x1="451.50" y1="253.50" x2="453.50" y2="253.50" stroke="#4a4a4a" stroke-width="0.6" />
<text x="290.20" y="255.30" font-size="5.1" text-anchor="end" fill="#444" stroke="#444" stroke-width="0.2" >30</text>
<text x="456.60" y="255.30" font-size="5.1" text-anchor="start" fill="#444" stroke="#444" stroke-width="0.2" >30</text>
<line x1="292.80" y1="246.25" x2="294.00" y2="246.25" stroke="#4a4a4a" stroke-width="0.5" />
<line x1="452.30" y1="246.25" x2="453.50" y2="246.25" stroke="#4a4a4a" stroke-width="0.5" />
<line x1="292.00" y1="239.00" x2="294.00" y2="239.00" stroke="#4a4a4a" stroke-width="0.6" />
<line x1="451.50" y1="239.00" x2="453.50" y2="239.00" stroke="#4a4a4a" stroke-width="0.6" />
<text x="290.20" y="240.80" font-size="5.1" text-anchor="end" fill="#444" stroke="#444" stroke-width="0.2" >40</text>
<text x="456.60" y="240.80" font-size="5.1" text-anchor="start" fill="#444" stroke="#444" stroke-width="0.2" >40</text>
<line x1="292.80" y1="231.75" x2="294.00" y2="231.75" stroke="#4a4a4a" stroke-width="0.5" />
<line x1="452.30" y1="231.75" x2="453.50" y2="231.75" stroke="#4a4a4a" stroke-width="0.5" />
<line x1="292.00" y1="224.50" x2="294.00" y2="224.50" stroke="#4a4a4a" stroke-width="0.6" />
<line x1="451.50" y1="224.50" x2="453.50" y2="224.50" stroke="#4a4a4a" stroke-width="0.6" />
<text x="290.20" y="226.30" font-size="5.1" text-anchor="end" fill="#444" stroke="#444" stroke-width="0.2" >50</text>
<text x="456.60" y="226.30" font-size="5.1" text-anchor="start" fill="#444" stroke="#444" stroke-width="0.2" >50</text>
<line x1="292.80" y1="217.25" x2="294.00" y2="217.25" stroke="#4a4a4a" stroke-width="0.5" />
<line x1="452.30" y1="217.25" x2="453.50" y2="217.25" stroke="#4a4a4a" stroke-width="0.5" />
<line x1="292.00" y1="210.00" x2="294.00" y2="210.00" stroke="#4a4a4a" stroke-width="0.6" />
<line x1="451.50" y1="210.00" x2="453.50" y2="210.00" stroke="#4a4a4a" stroke-width="0.6" />
<text x="290.20" y="211.80" font-size="5.1" text-anchor="end" fill="#444" stroke="#444" stroke-width="0.2" >60</text>
<text x="456.60" y="211.80" font-size="5.1" text-anchor="start" fill="#444" stroke="#444" stroke-width="0.2" >60</text>
<line x1="292.80" y1="202.75" x2="294.00" y2="202.75" stroke="#4a4a4a" stroke-width="0.5" />
<line x1="452.30" y1="202.75" x2="453.50" y2="202.75" stroke="#4a4a4a" stroke-width="0.5" />
<line x1="292.00" y1="195.50" x2="294.00" y2="195.50" stroke="#4a4a4a" stroke-width="0.6" />
<line x1="451.50" y1="195.50" x2="453.50" y2="195.50" stroke="#4a4a4a" stroke-width="0.6" />
<text x="290.20" y="197.30" font-size="5.1" text-anchor="end" fill="#444" stroke="#444" stroke-width="0.2" >70</text>
<text x="456.60" y="197.30" font-size="5.1" text-anchor="start" fill="#444" stroke="#444" stroke-width="0.2" >70</text>
<line x1="292.80" y1="188.25" x2="294.00" y2="188.25" stroke="#4a4a4a" stroke-width="0.5" />
<line x1="452.30" y1="188.25" x2="453.50" y2="188.25" stroke="#4a4a4a" stroke-width="0.5" />
<line x1="292.00" y1="181.00" x2="294.00" y2="181.00" stroke="#4a4a4a" stroke-width="0.6" />
<line x1="451.50" y1="181.00" x2="453.50" y2="181.00" stroke="#4a4a4a" stroke-width="0.6" />
<text x="290.20" y="182.80" font-size="5.1" text-anchor="end" fill="#444" stroke="#444" stroke-width="0.2" >80</text>
<text x="456.60" y="182.80" font-size="5.1" text-anchor="start" fill="#444" stroke="#444" stroke-width="0.2" >80</text>
<line x1="296.50" y1="298.50" x2="296.50" y2="300.90" stroke="#4a4a4a" stroke-width="0.7" />
<text x="296.50" y="306.60" font-size="5.1" text-anchor="middle" fill="#444" stroke="#444" stroke-width="0.2" >0</text>
<line x1="302.45" y1="298.50" x2="302.45" y2="299.90" stroke="#4a4a4a" stroke-width="0.6" />
<line x1="308.41" y1="298.50" x2="308.41" y2="300.90" stroke="#4a4a4a" stroke-width="0.7" />
<text x="308.41" y="306.60" font-size="5.1" text-anchor="middle" fill="#444" stroke="#444" stroke-width="0.2" >3</text>
<line x1="314.37" y1="298.50" x2="314.37" y2="299.90" stroke="#4a4a4a" stroke-width="0.6" />
<line x1="320.32" y1="298.50" x2="320.32" y2="300.90" stroke="#4a4a4a" stroke-width="0.7" />
<text x="320.32" y="306.60" font-size="5.1" text-anchor="middle" fill="#444" stroke="#444" stroke-width="0.2" >6</text>
<line x1="326.27" y1="298.50" x2="326.27" y2="299.90" stroke="#4a4a4a" stroke-width="0.6" />
<line x1="332.23" y1="298.50" x2="332.23" y2="300.90" stroke="#4a4a4a" stroke-width="0.7" />
<text x="332.23" y="306.60" font-size="5.1" text-anchor="middle" fill="#444" stroke="#444" stroke-width="0.2" >9</text>
<line x1="338.19" y1="298.50" x2="338.19" y2="299.90" stroke="#4a4a4a" stroke-width="0.6" />
<line x1="344.14" y1="298.50" x2="344.14" y2="300.90" stroke="#4a4a4a" stroke-width="0.7" />
<text x="344.14" y="306.60" font-size="5.1" text-anchor="middle" fill="#444" stroke="#444" stroke-width="0.2" >12</text>
<line x1="350.10" y1="298.50" x2="350.10" y2="299.90" stroke="#4a4a4a" stroke-width="0.6" />
<line x1="356.05" y1="298.50" x2="356.05" y2="300.90" stroke="#4a4a4a" stroke-width="0.7" />
<text x="356.05" y="306.60" font-size="5.1" text-anchor="middle" fill="#444" stroke="#444" stroke-width="0.2" >15</text>
<line x1="362.00" y1="298.50" x2="362.00" y2="299.90" stroke="#4a4a4a" stroke-width="0.6" />
<line x1="367.96" y1="298.50" x2="367.96" y2="300.90" stroke="#4a4a4a" stroke-width="0.7" />
<text x="367.96" y="306.60" font-size="5.1" text-anchor="middle" fill="#444" stroke="#444" stroke-width="0.2" >18</text>
<line x1="373.92" y1="298.50" x2="373.92" y2="299.90" stroke="#4a4a4a" stroke-width="0.6" />
<line x1="379.87" y1="298.50" x2="379.87" y2="300.90" stroke="#4a4a4a" stroke-width="0.7" />
<text x="379.87" y="306.60" font-size="5.1" text-anchor="middle" fill="#444" stroke="#444" stroke-width="0.2" >21</text>
<line x1="385.82" y1="298.50" x2="385.82" y2="299.90" stroke="#4a4a4a" stroke-width="0.6" />
<line x1="391.78" y1="298.50" x2="391.78" y2="300.90" stroke="#4a4a4a" stroke-width="0.7" />
<text x="391.78" y="306.60" font-size="5.1" text-anchor="middle" fill="#444" stroke="#444" stroke-width="0.2" >24</text>
<line x1="397.74" y1="298.50" x2="397.74" y2="299.90" stroke="#4a4a4a" stroke-width="0.6" />
<line x1="403.69" y1="298.50" x2="403.69" y2="300.90" stroke="#4a4a4a" stroke-width="0.7" />
<text x="403.69" y="306.60" font-size="5.1" text-anchor="middle" fill="#444" stroke="#444" stroke-width="0.2" >27</text>
<line x1="409.64" y1="298.50" x2="409.64" y2="299.90" stroke="#4a4a4a" stroke-width="0.6" />
<line x1="415.60" y1="298.50" x2="415.60" y2="300.90" stroke="#4a4a4a" stroke-width="0.7" />
<text x="415.60" y="306.60" font-size="5.1" text-anchor="middle" fill="#444" stroke="#444" stroke-width="0.2" >30</text>
<line x1="421.56" y1="298.50" x2="421.56" y2="299.90" stroke="#4a4a4a" stroke-width="0.6" />
<line x1="427.51" y1="298.50" x2="427.51" y2="300.90" stroke="#4a4a4a" stroke-width="0.7" />
<text x="427.51" y="306.60" font-size="5.1" text-anchor="middle" fill="#444" stroke="#444" stroke-width="0.2" >33</text>
<line x1="433.47" y1="298.50" x2="433.47" y2="299.90" stroke="#4a4a4a" stroke-width="0.6" />
<line x1="439.42" y1="298.50" x2="439.42" y2="300.90" stroke="#4a4a4a" stroke-width="0.7" />
<text x="439.42" y="306.60" font-size="5.1" text-anchor="middle" fill="#444" stroke="#444" stroke-width="0.2" >36</text>
<line x1="445.38" y1="298.50" x2="445.38" y2="299.90" stroke="#4a4a4a" stroke-width="0.6" />
<line x1="451.33" y1="298.50" x2="451.33" y2="300.90" stroke="#4a4a4a" stroke-width="0.7" />
<text x="451.33" y="306.60" font-size="5.1" text-anchor="middle" fill="#444" stroke="#444" stroke-width="0.2" >39</text>
<line x1="294.00" y1="171.30" x2="453.50" y2="171.30" stroke="#4a4a4a" stroke-width="0.9" />
<line x1="453.50" y1="171.30" x2="453.50" y2="298.50" stroke="#4a4a4a" stroke-width="0.8" />
<line x1="294.00" y1="171.30" x2="294.00" y2="298.50" stroke="#4a4a4a" stroke-width="0.9" />
<line x1="294.00" y1="298.50" x2="453.50" y2="298.50" stroke="#4a4a4a" stroke-width="0.9" />
<text x="373.20" y="319.60" font-size="9.4" text-anchor="middle" fill="#111" stroke="#111" stroke-width="0.2" font-weight="bold" textLength="77" lengthAdjust="spacingAndGlyphs" >Release Time (day)</text>
<text x="282.50" y="233.30" font-size="7.9" text-anchor="middle" fill="#111" stroke="#111" stroke-width="0.2" font-weight="bold" textLength="40.5" lengthAdjust="spacingAndGlyphs" transform="rotate(-90 282.50 233.30)" >C (μg/mL)</text>
<text x="470.20" y="236.00" font-size="7.7" text-anchor="middle" fill="#111" stroke="#111" stroke-width="0.2" font-weight="bold" textLength="40.5" lengthAdjust="spacingAndGlyphs" transform="rotate(-90 470.20 236.00)" >% Release</text>
<text x="444.20" y="294.20" font-size="6.6" text-anchor="middle" fill="#111" stroke="#111" stroke-width="0.2" font-weight="bold" >(e)</text>
<text x="350.20" y="198.40" font-size="6.6" text-anchor="middle" fill="#1a1a1a" stroke="#1a1a1a" stroke-width="0.15" textLength="40.7" lengthAdjust="spacingAndGlyphs" >1st immersion</text>
<text x="426.80" y="191.30" font-size="6.6" text-anchor="middle" fill="#1c1cc8" stroke="#1c1cc8" stroke-width="0.15" textLength="42.8" lengthAdjust="spacingAndGlyphs" >2nd immersion</text>
<ellipse cx="296.50" cy="295.12" rx="3.2" ry="3.39" fill="#d80000"/>
<circle cx="295.80" cy="294.26" r="1.5" fill="url(#hr)"/>
<ellipse cx="300.47" cy="261.91" rx="3.05" ry="3.23" fill="#0a0a0a"/>
<circle cx="299.77" cy="261.06" r="1.5" fill="url(#hk)"/>
<ellipse cx="304.44" cy="236.10" rx="3.05" ry="3.23" fill="#0a0a0a"/>
<circle cx="303.74" cy="235.25" r="1.5" fill="url(#hk)"/>
<ellipse cx="308.41" cy="217.25" rx="3.05" ry="3.23" fill="#0a0a0a"/>
<circle cx="307.71" cy="216.40" r="1.5" fill="url(#hk)"/>
<ellipse cx="320.32" cy="187.81" rx="3.05" ry="3.23" fill="#0a0a0a"/>
<circle cx="319.62" cy="186.97" r="1.5" fill="url(#hk)"/>
<ellipse cx="324.29" cy="186.51" rx="3.05" ry="3.23" fill="#0a0a0a"/>
<circle cx="323.59" cy="185.66" r="1.5" fill="url(#hk)"/>
<ellipse cx="328.26" cy="185.35" rx="3.05" ry="3.23" fill="#0a0a0a"/>
<circle cx="327.56" cy="184.50" r="1.5" fill="url(#hk)"/>
<ellipse cx="336.20" cy="185.35" rx="3.05" ry="3.23" fill="#0a0a0a"/>
<circle cx="335.50" cy="184.50" r="1.5" fill="url(#hk)"/>
<ellipse cx="344.14" cy="185.35" rx="3.05" ry="3.23" fill="#0a0a0a"/>
<circle cx="343.44" cy="184.50" r="1.5" fill="url(#hk)"/>
<ellipse cx="356.05" cy="185.35" rx="3.05" ry="3.23" fill="#0a0a0a"/>
<circle cx="355.35" cy="184.50" r="1.5" fill="url(#hk)"/>
<ellipse cx="375.90" cy="185.35" rx="3.05" ry="3.23" fill="#0a0a0a"/>
<circle cx="375.20" cy="184.50" r="1.5" fill="url(#hk)"/>
<ellipse cx="391.78" cy="185.35" rx="3.05" ry="3.23" fill="#0a0a0a"/>
<circle cx="391.08" cy="184.50" r="1.5" fill="url(#hk)"/>
<ellipse cx="409.64" cy="179.26" rx="3.05" ry="3.23" fill="#1010d8"/>
<circle cx="408.94" cy="178.41" r="1.5" fill="url(#hb)"/>
<ellipse cx="413.22" cy="178.82" rx="3.05" ry="3.23" fill="#1010d8"/>
<circle cx="412.52" cy="177.97" r="1.5" fill="url(#hb)"/>
<ellipse cx="436.64" cy="175.49" rx="3.05" ry="3.23" fill="#1010d8"/>
<circle cx="435.94" cy="174.64" r="1.5" fill="url(#hb)"/>
<ellipse cx="448.55" cy="174.33" rx="3.05" ry="3.23" fill="#1010d8"/>
<circle cx="447.85" cy="173.48" r="1.5" fill="url(#hb)"/>
</svg>
</body></html>
